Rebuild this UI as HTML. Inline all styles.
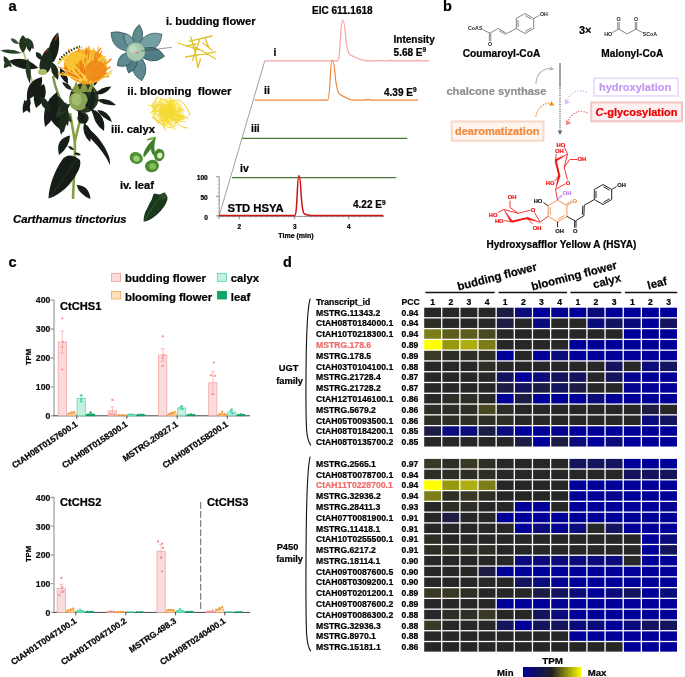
<!DOCTYPE html>
<html lang="en"><head><meta charset="utf-8"><title>Figure</title>
<style>
html,body{margin:0;padding:0;background:#fff}
body{width:685px;height:677px;overflow:hidden;position:relative}
svg{display:block;position:absolute;left:0;top:0}
text{font-family:"Liberation Sans",Arial,Helvetica,sans-serif;font-weight:bold;stroke-width:0.22px}
</style></head><body>
<svg width="685" height="677" viewBox="0 0 685 677">
<defs>
<linearGradient id="cb" x1="0" x2="1" y1="0" y2="0"><stop offset="0" stop-color="#000099"/><stop offset="0.5" stop-color="#202020"/><stop offset="1" stop-color="#ffff00"/></linearGradient>
<filter id="bl" x="-10%" y="-10%" width="120%" height="120%"><feGaussianBlur stdDeviation="0.45"/></filter>
</defs>

<text x="8.5" y="11.1" font-size="14.6" stroke="#000">a</text>
<text x="443.0" y="11.2" font-size="14.5" stroke="#000">b</text>
<text x="8.6" y="267.0" font-size="14.5" stroke="#000">c</text>
<text x="283.0" y="267.0" font-size="14.5" stroke="#000">d</text>
<g id="plant" filter="url(#bl)">
<path d="M70 113 C72 125 74 135 74.8 142 M80.5 119 C78 128 76 136 74.8 142 C75.5 160 73.5 180 73 199" stroke="#88a044" stroke-width="2.6" fill="none"/>
<path d="M23.7 52 C27 64 30 76 34 86 C38 94 44 102 50 110" stroke="#b4c474" stroke-width="1.8" fill="none"/>
<path d="M53 76 C55 88 60 100 66 110" stroke="#7a9448" stroke-width="2.4" fill="none"/>
<path d="M80 160 C73 154 66 154 62 160 C54 172 49 186 48.5 198.5 C60 195 71 185 77 173 C80 168 81 164 80 160Z" fill="#141f18"/>
<path d="M76 160 C68 172 58 186 50 197" stroke="#2c4030" stroke-width="0.7" fill="none"/>
<path d="M70.0 135.5 Q55.0 138.6 59.0 155.0 Q69.8 147.0 70.0 135.5Z" fill="#141f18"/>
<path d="M76.5 185.0 Q79.4 194.7 90.5 199.0 Q89.0 185.1 76.5 185.0Z" fill="#141f18"/>
<path d="M74.0 150.0 Q72.7 146.1 68.0 146.0 Q69.9 150.3 74.0 150.0Z" fill="#141f18"/>
<path d="M74.0 153.0 Q76.4 156.4 81.0 155.0 Q77.9 151.4 74.0 153.0Z" fill="#141f18"/>
<path d="M88 128 C96 134 104 144 108 154 C110 158 110 162 110 165 C106 156 100 148 92 140 C89 136 88 132 88 128Z" fill="#141f18"/>
<path d="M93.0 112.0 Q93.1 123.4 104.0 131.0 Q106.3 115.7 93.0 112.0Z" fill="#141f18"/>
<path d="M84.0 123.0 Q81.2 133.3 90.0 142.0 Q94.1 129.2 84.0 123.0Z" fill="#141f18"/>
<path d="M97.0 110.0 Q101.8 117.8 112.0 122.0 Q108.2 109.9 97.0 110.0Z" fill="#141f18"/>
<circle cx="83" cy="118.2" r="5.6" fill="#1d2b1f"/>
<path d="M50.0 98.0 Q42.2 119.1 64.0 132.0 Q70.4 107.5 50.0 98.0Z" fill="#141f18"/>
<path d="M58.0 96.0 Q52.8 112.7 68.0 126.0 Q72.2 106.3 58.0 96.0Z" fill="#1d2b1f"/>
<path d="M44.0 84.0 Q29.0 91.0 36.0 108.0 Q49.9 98.0 44.0 84.0Z" fill="#141f18"/>
<path d="M30.0 98.0 Q20.7 101.9 23.0 113.0 Q33.0 107.6 30.0 98.0Z" fill="#141f18"/>
<path d="M60.0 108.0 Q59.5 119.4 72.0 122.0 Q69.8 110.5 60.0 108.0Z" fill="#263826"/>
<path d="M42.0 77.0 Q25.2 80.8 27.0 100.0 Q43.7 92.8 42.0 77.0Z" fill="#141f18"/>
<path d="M57.0 92.0 Q40.3 103.9 45.0 127.0 Q62.9 111.6 57.0 92.0Z" fill="#141f18"/>
<path d="M66.0 102.0 Q55.3 115.6 61.0 135.0 Q72.2 118.1 66.0 102.0Z" fill="#1d2b1f"/>
<path d="M40.0 96.0 Q39.2 107.3 51.0 113.0 Q50.7 100.0 40.0 96.0Z" fill="#1d2b1f"/>
<path d="M24.0 100.0 Q22.1 108.0 30.0 113.0 Q31.3 103.7 24.0 100.0Z" fill="#141f18"/>
<path d="M66.0 104.0 Q56.0 106.3 56.0 118.0 Q67.0 114.3 66.0 104.0Z" fill="#263826"/>
<path d="M58 32.4 C53 36 49 44 48.5 52 C48.3 58 50 62 53.5 62 C58 56 61 44 58 32.4Z" fill="#141f18"/>
<path d="M58 32.4 C56.2 35 55 38 54.4 41 C56.6 40 58.4 37 58 32.4Z" fill="#8a3018"/>
<path d="M48.4 47.4 C43 52 39 60 39.5 68 C40 73 44 75 48 72 C53 66 54.5 56 48.4 47.4Z" fill="#1d2b1f"/>
<path d="M48.4 47.4 C47 49 46 51 45.6 53 C47.4 52 48.6 50 48.4 47.4Z" fill="#8a3018"/>
<path d="M8.5 61.0 Q20.1 72.3 38.5 68.0 Q24.4 54.1 8.5 61.0Z" fill="#141f18"/>
<path d="M0.5 50.5 Q9.7 55.3 22.0 53.0 Q10.6 47.9 0.5 50.5Z" fill="#2a4228"/>
<path d="M4.0 56.0 Q1.9 65.1 12.0 67.0 Q10.1 59.1 4.0 56.0Z" fill="#22361f"/>
<path d="M10.0 62.0 Q3.0 60.4 4.0 68.0 Q10.2 67.6 10.0 62.0Z" fill="#263826"/>
<path d="M23.0 35.0 Q15.2 43.1 23.0 53.0 Q30.8 43.1 23.0 35.0Z" fill="#22361f"/>
<path d="M28.0 38.0 Q23.0 45.1 30.0 52.0 Q34.8 43.5 28.0 38.0Z" fill="#1d2b1f"/>
<path d="M24.0 38.0 Q24.1 46.8 33.8 49.0 Q34.2 37.8 24.0 38.0Z" fill="#263826"/>
<path d="M10.5 38.5 Q12.3 44.1 19.0 44.0 Q16.4 37.8 10.5 38.5Z" fill="#365230"/>
<path d="M36.0 52.0 Q34.6 58.7 42.0 60.0 Q42.8 52.5 36.0 52.0Z" fill="#1d2b1f"/>
<path d="M28.0 58.0 Q22.3 70.2 30.0 84.0 Q32.5 69.4 28.0 58.0Z" fill="#263826"/>
<path d="M52.0 62.0 Q48.2 72.3 58.0 80.0 Q61.2 67.9 52.0 62.0Z" fill="#1d2b1f"/>
<path d="M60.0 68.0 Q58.3 77.9 68.0 84.0 Q68.9 72.5 60.0 68.0Z" fill="#141f18"/>
<ellipse cx="42.5" cy="72" rx="4.5" ry="3" fill="#a9bc6c"/>
<ellipse cx="84" cy="98" rx="14.5" ry="15" fill="#2c3824"/>
<path d="M72 92 L76 81 L80 90 L84 80 L88 90 L92 81 L95 92 Z" fill="#8a9a40"/>
<ellipse cx="78.5" cy="101" rx="9.5" ry="9.5" fill="#86a452"/>
<ellipse cx="76.5" cy="99.5" rx="5" ry="6" fill="#a4bc70"/>
<path d="M86 88 L89 99 L93 86 L96 100 L92 111 L85 106 L88 100Z" fill="#18221a"/>
<path d="M95.0 94.0 Q104.9 96.2 111.5 86.5 Q100.7 86.9 95.0 94.0Z" fill="#141f18"/>
<path d="M97.0 100.0 Q104.5 106.2 116.0 105.0 Q107.1 96.4 97.0 100.0Z" fill="#141f18"/>
<path d="M91.0 109.0 Q93.1 119.0 104.0 124.0 Q102.1 111.2 91.0 109.0Z" fill="#141f18"/>
<path d="M78.0 110.0 Q76.4 119.3 86.0 124.0 Q86.8 113.3 78.0 110.0Z" fill="#141f18"/>
<path d="M70.0 104.0 Q62.3 103.6 60.0 112.0 Q68.7 111.6 70.0 104.0Z" fill="#1d2b1f"/>
<path d="M72.0 90.0 Q70.2 83.1 62.0 82.0 Q64.8 89.7 72.0 90.0Z" fill="#1d2b1f"/>
<path d="M88.0 84.0 Q92.2 81.2 90.0 76.0 Q85.6 79.6 88.0 84.0Z" fill="#141f18"/>
<path d="M94.0 86.0 Q98.9 83.1 97.0 77.0 Q91.8 80.8 94.0 86.0Z" fill="#141f18"/>
<path d="M84 84 C76 83 67 77 64 68 C63 59 69 52 79 50 C91 48 102 52 106 60 C109 68 106 77 99 81 C93 84 88 85 84 84Z" fill="#f4a022"/>
<path d="M83.4 80.0 Q76.1 67.7 67.3 60.6 M82.1 78.2 Q73.2 75.6 58.4 73.4 M86.7 77.8 Q96.6 72.9 104.8 63.6 M87.1 77.3 Q89.5 62.4 88.9 46.4 M89.4 79.4 Q85.9 73.2 79.8 62.5 M83.7 81.0 Q91.7 70.4 100.4 54.5 M80.6 78.1 Q91.0 73.2 95.9 69.1 M85.1 78.9 Q88.0 68.1 92.8 56.3 M87.2 81.6 Q92.9 68.5 94.2 49.5 M89.3 81.8 Q96.4 72.5 98.6 62.4 M89.0 79.9 Q93.4 68.1 100.5 61.5 M80.1 81.0 Q91.4 70.6 103.8 64.4 M89.5 77.2 Q82.6 61.9 74.4 52.0 M89.6 81.9 Q95.9 75.2 102.1 62.4 M86.2 77.2 Q79.6 67.8 76.6 59.5 M79.5 81.3 Q81.5 73.5 85.7 60.2 M84.5 79.6 Q94.6 75.4 102.9 70.0 M90.3 79.5 Q92.1 66.5 94.7 50.8 M90.7 79.6 Q83.9 68.2 76.6 62.6 M79.2 80.1 Q77.0 63.6 73.1 52.5 M87.2 78.8 Q92.6 67.8 95.6 53.9 M87.1 81.8 Q77.9 79.8 71.6 78.2 " stroke="#f5a623" stroke-width="1.2" fill="none" stroke-linecap="round"/>
<path d="M83.4 78.6 Q85.5 67.2 89.1 54.8 M88.3 77.1 Q82.7 68.1 76.3 56.2 M88.6 78.2 Q81.5 68.1 78.1 58.7 M82.9 78.7 Q89.9 69.5 92.9 61.0 M83.0 80.3 Q93.1 74.6 98.6 69.5 M85.4 78.0 Q80.7 72.7 72.3 63.4 M88.7 80.2 Q82.7 72.4 73.0 66.4 M88.5 78.4 Q79.1 72.5 71.5 67.6 M90.0 77.8 Q84.4 67.8 84.8 52.5 M84.2 81.8 Q99.0 72.9 108.6 67.4 M87.0 79.6 Q94.6 66.9 104.7 56.1 M86.1 78.4 Q81.7 68.6 73.5 64.3 M90.1 81.5 Q103.4 76.6 111.9 70.7 M81.1 78.5 Q70.7 76.4 58.3 73.9 M86.3 78.7 Q81.2 64.6 79.0 46.1 M83.2 78.0 Q82.5 64.2 81.4 46.5 M90.1 81.0 Q81.5 69.5 69.1 63.9 M79.6 78.4 Q83.4 63.5 90.0 48.2 M88.3 77.0 Q83.0 61.6 83.1 50.7 M90.7 81.3 Q80.8 76.8 75.8 72.3 M83.2 80.2 Q78.3 69.0 72.4 59.4 M80.5 79.8 Q73.8 71.7 64.5 65.1 " stroke="#f9c53a" stroke-width="1.2" fill="none" stroke-linecap="round"/>
<path d="M83.5 80.0 Q76.9 75.7 66.9 72.9 M84.2 78.9 Q93.4 71.2 102.6 61.2 M84.5 78.2 Q81.7 64.7 78.5 48.9 M84.1 81.4 Q77.1 76.8 64.9 73.7 M82.1 79.3 Q91.2 75.3 104.8 67.6 M88.5 80.3 Q96.4 66.2 101.5 51.4 M79.1 77.7 Q70.4 69.6 58.5 67.0 M89.6 77.9 Q78.9 76.2 74.0 70.5 M87.1 81.2 Q78.4 74.9 64.2 67.6 M88.2 79.6 Q96.0 70.9 101.2 66.9 M79.7 78.6 Q89.5 68.4 98.5 54.3 M82.0 80.1 Q77.0 71.5 69.0 64.1 M83.2 79.1 Q76.5 67.2 74.8 55.3 M88.0 77.8 Q98.7 77.0 107.2 73.1 M84.8 80.2 Q92.9 66.2 96.3 56.5 M90.0 79.6 Q78.5 75.4 67.7 68.6 M81.4 79.9 Q72.5 71.4 65.9 66.1 M82.6 80.5 Q89.7 68.5 97.9 52.3 M81.6 77.1 Q84.0 64.8 86.7 53.9 M82.9 80.9 Q72.3 76.9 66.1 67.1 M84.6 81.2 Q85.8 67.1 83.1 52.4 M89.3 79.0 Q89.9 66.5 87.8 48.4 " stroke="#f08a18" stroke-width="1.2" fill="none" stroke-linecap="round"/>
<path d="M81.8 80.6 Q81.9 71.7 79.9 57.2 M81.3 78.3 Q87.5 73.8 97.5 66.9 M82.1 81.3 Q92.4 73.1 105.0 65.8 M80.1 81.2 Q84.4 72.2 91.3 64.9 M79.1 78.7 Q81.7 64.1 85.2 49.6 M90.5 79.0 Q81.9 67.6 72.8 60.9 M80.4 81.4 Q75.1 67.6 65.0 58.5 M88.3 80.8 Q96.4 78.5 107.0 74.1 M82.2 80.8 Q90.9 67.7 94.1 52.5 M84.9 78.8 Q87.2 69.0 86.9 57.1 M86.7 80.2 Q86.7 71.3 90.6 57.8 M90.2 77.7 Q93.3 69.3 98.5 58.3 M86.8 79.3 Q89.1 63.9 93.7 52.3 M88.1 79.7 Q78.3 74.5 65.7 71.0 M89.5 77.2 Q82.7 66.0 75.8 57.9 M83.0 79.0 Q90.7 72.1 97.8 61.9 M80.3 78.4 Q72.1 61.5 68.7 49.2 M81.2 77.9 Q90.0 69.3 99.7 57.8 M86.1 77.7 Q95.6 67.0 106.2 60.0 M81.4 78.3 Q84.1 61.3 83.4 49.9 M90.4 78.9 Q101.2 69.5 111.4 59.0 M87.2 78.5 Q95.0 62.7 98.5 47.1 " stroke="#f7b62e" stroke-width="1.2" fill="none" stroke-linecap="round"/>
<path d="M79.0 80.9 Q83.9 66.2 86.8 51.6 M81.3 79.6 Q79.4 66.3 82.9 52.9 M85.8 81.8 Q92.9 67.6 95.3 57.9 M79.6 78.8 Q87.1 67.1 97.7 60.5 M82.9 81.4 Q85.7 62.4 86.2 47.9 M90.1 80.6 Q101.5 72.9 110.1 67.0 M89.3 79.2 Q101.6 69.1 110.8 59.2 M79.9 78.0 Q70.5 74.0 65.1 69.9 M84.1 80.2 Q89.4 68.6 97.1 57.4 M81.2 81.5 Q89.9 71.6 95.9 63.2 M86.2 78.1 Q78.7 63.6 77.3 52.5 M84.5 78.0 Q89.5 68.8 98.0 63.6 M79.3 77.6 Q74.6 66.7 73.9 56.0 M84.4 79.0 Q78.1 73.6 69.4 73.6 M79.3 81.8 Q74.5 67.0 73.0 57.1 M86.5 78.7 Q83.5 64.8 85.0 56.2 M88.5 79.3 Q97.3 68.9 101.0 60.9 M88.8 80.1 Q81.2 69.1 75.4 62.9 M86.1 77.0 Q90.7 60.1 101.0 48.1 M79.6 80.3 Q75.2 72.9 65.9 69.1 M88.6 81.6 Q101.2 76.4 108.6 76.7 M90.4 77.4 Q82.5 67.6 77.0 53.6 " stroke="#ee7f12" stroke-width="1.2" fill="none" stroke-linecap="round"/>
<path d="M83.0 80.4 Q76.4 73.3 64.7 70.0 M89.0 79.8 Q99.9 67.6 105.7 57.0 M88.4 79.4 Q84.4 66.1 83.3 56.7 M87.5 78.9 Q94.8 65.6 102.2 56.4 M84.6 80.8 Q90.7 70.2 94.6 64.5 M86.7 81.4 Q79.6 69.9 68.0 59.0 M83.0 78.9 Q91.5 72.5 105.1 67.4 M85.8 77.6 Q91.3 76.0 101.8 72.7 M80.8 80.2 Q75.4 70.0 68.9 65.7 M81.6 79.8 Q71.1 69.9 61.5 56.7 M85.4 77.9 Q87.6 60.4 93.7 48.0 M79.3 81.8 Q84.7 78.2 93.6 69.9 M81.7 81.1 Q72.6 77.6 62.2 72.3 M83.2 80.0 Q92.3 66.3 102.0 57.2 M88.8 78.0 Q98.7 70.3 108.1 62.9 M83.2 79.4 Q86.1 71.6 94.2 63.2 M86.8 80.0 Q92.1 69.3 100.8 60.4 M84.2 77.4 Q91.7 73.8 102.5 74.3 M89.5 81.9 Q101.4 80.1 111.9 73.1 M90.4 81.5 Q94.3 68.4 92.8 55.4 M91.0 81.6 Q97.5 75.5 106.4 64.2 M87.7 78.5 Q80.8 73.1 73.7 66.1 " stroke="#fad04a" stroke-width="1.2" fill="none" stroke-linecap="round"/>
<path d="M88 80 C83 75 84 66 90 62 C97 58 105 62 106 69 C106 76 99 81 93 82Z" fill="#ef8616" opacity="0.85"/>
<path d="M68 56 C74 50 83 51 88 57 C82 59 76 63 70 72 C65 67 65 60 68 56Z" fill="#f9c834" opacity="0.9"/>
<path d="M59.5 60 C64 54 70 50 80 46.5" stroke="#3a3a12" stroke-width="2.2" stroke-dasharray="1.6 1.4" fill="none"/>
<path d="M58 64 C61 60 64 57 68 55" stroke="#e8c428" stroke-width="1.4" fill="none"/>
</g>
<g id="bud" filter="url(#bl)">
<path d="M135.7 51.8 Q147.9 36.8 139.2 24.6 Q127.7 34.2 135.7 51.8Z" fill="#5f8b90" stroke="#1f3a42" stroke-width="0.6"/>
<path d="M135.7 51.8 Q160.0 54.0 162.0 34.3 Q143.0 28.6 135.7 51.8Z" fill="#74a0a3" stroke="#1f3a42" stroke-width="0.6"/>
<path d="M135.7 51.8 Q151.0 67.9 164.6 56.2 Q155.1 41.0 135.7 51.8Z" fill="#4f7d83" stroke="#1f3a42" stroke-width="0.6"/>
<path d="M135.7 51.8 Q126.1 71.9 141.8 80.7 Q152.7 66.3 135.7 51.8Z" fill="#5f8b90" stroke="#1f3a42" stroke-width="0.6"/>
<path d="M135.7 51.8 Q121.8 61.3 128.6 73.0 Q141.1 67.8 135.7 51.8Z" fill="#4f7d83" stroke="#1f3a42" stroke-width="0.6"/>
<path d="M135.7 51.8 Q117.5 50.7 117.3 65.8 Q131.9 69.7 135.7 51.8Z" fill="#5f8b90" stroke="#1f3a42" stroke-width="0.6"/>
<path d="M135.7 51.8 Q130.4 28.2 111.1 32.5 Q111.5 52.3 135.7 51.8Z" fill="#5f8b90" stroke="#1f3a42" stroke-width="0.6"/>
<path d="M135.7 51.8 Q136.1 36.1 124.3 33.0 Q121.6 44.9 135.7 51.8Z" fill="#74a0a3" stroke="#1f3a42" stroke-width="0.6"/>
<circle cx="135.7" cy="51.8" r="9.6" fill="#a6c7b0" stroke="#5a8480" stroke-width="0.6"/>
<circle cx="133" cy="49" r="4" fill="#bcd8c0"/>
<circle cx="137" cy="52.5" r="1.6" fill="#e8907c"/>
<path d="M141 51 L171.6 47.4" stroke="#333" stroke-width="0.5"/>
</g>
<g id="fil" stroke="#dfc326" stroke-width="1.3" fill="none" stroke-linecap="round" filter="url(#bl)">
<path d="M177.7 43 L199.6 50 M190.8 36.9 L195 52 L197.9 67.6 M189 41.3 L211.9 36 M185.6 57 L215.4 51.8 M194.3 46.5 L215.4 58.8 M199.6 39.5 L192.6 60.5 M203 43 L212 50 M197.9 67.6 L200.5 58.8 M186 46 L196 44 M205 38 L209 48"/>
</g>
<g id="bloom" filter="url(#bl)">
<ellipse cx="168" cy="112" rx="16" ry="13.5" fill="#f8e458" opacity="0.5"/>
<ellipse cx="167" cy="112" rx="8" ry="7" fill="#f3cc2a" opacity="0.6"/>
<path d="M165.9 115.6 Q164.2 111.8 162.0 110.2 M178.5 115.3 Q179.6 113.2 187.7 117.5 M154.0 118.0 Q157.8 124.3 159.5 123.5 M159.7 108.3 Q165.7 106.2 166.0 107.4 M170.5 114.6 Q165.7 121.1 166.0 126.3 M162.2 106.2 Q155.6 102.9 156.0 104.3 M163.8 104.5 Q161.3 107.8 159.6 114.3 M171.9 100.8 Q172.3 109.1 172.2 111.4 M167.0 105.8 Q169.8 107.4 173.9 104.9 M174.3 119.4 Q181.9 121.4 185.3 122.2 M173.7 107.3 Q172.5 101.9 170.0 97.2 M177.3 99.8 Q168.2 102.4 166.1 101.7 M178.4 113.2 Q176.6 118.4 181.8 119.3 M172.7 116.1 Q164.3 119.8 162.6 124.3 M152.3 107.8 Q153.2 101.3 157.7 96.1 M157.6 122.7 Q158.5 119.6 164.5 120.8 M169.1 121.0 Q161.7 118.2 162.3 116.7 M159.8 119.4 Q165.4 118.6 170.8 116.0 M167.0 110.3 Q174.9 109.0 176.8 103.0 M160.6 116.9 Q161.5 116.8 169.4 123.6 M169.3 116.1 Q163.6 116.0 165.8 121.5 M175.1 116.4 Q182.5 114.6 188.0 118.5 M167.9 119.2 Q168.4 125.7 163.3 124.4 M157.4 113.9 Q159.1 113.8 163.3 117.4 M170.4 108.3 Q177.3 106.5 183.9 110.3 M166.6 111.7 Q162.7 112.0 153.0 109.2 M167.4 119.4 Q170.7 126.9 173.4 130.0 M165.0 116.6 Q170.4 112.6 170.2 103.7 M174.1 101.0 Q173.7 102.2 175.5 111.0 M175.3 113.1 Q178.6 118.4 174.6 124.6 M169.9 116.7 Q168.0 111.9 160.6 107.4 M159.2 101.5 Q167.3 106.6 168.9 107.2 M168.0 103.1 Q169.3 111.0 173.4 114.1 M177.3 110.6 Q173.5 111.9 166.2 118.5 M171.3 114.9 Q173.7 114.0 181.6 107.9 M181.3 110.6 Q175.3 110.9 175.2 119.0 M181.1 110.0 Q173.9 111.8 167.8 107.7 M170.8 107.5 Q168.7 112.4 170.7 115.9 M167.4 120.1 Q170.8 124.7 176.4 129.9 M166.9 111.9 Q159.5 115.6 160.0 114.6 M173.0 119.9 Q170.8 114.8 171.4 109.5 M153.7 107.7 Q155.8 109.1 162.0 114.2 M169.6 102.8 Q167.3 100.0 158.4 98.2 M159.5 106.0 Q153.4 105.8 148.0 105.1 M151.9 106.7 Q150.8 103.3 155.7 100.7 M174.0 114.4 Q181.3 120.1 184.1 119.5 M176.0 121.8 Q177.2 122.5 172.2 115.8 M173.3 119.1 Q166.5 117.2 164.6 118.2 M167.8 111.1 Q159.5 108.1 158.8 107.9 M160.0 105.4 Q168.7 111.9 172.7 110.9 M173.6 115.6 Q177.7 114.2 185.5 118.6 M153.1 118.6 Q152.0 118.3 156.5 111.3 M155.3 107.0 Q159.6 108.1 160.8 110.4 M183.5 118.3 Q176.0 116.5 175.2 109.0 M182.8 117.5 Q179.1 122.2 174.5 120.0 M167.5 115.6 Q160.5 112.2 159.7 114.2 M173.6 113.5 Q174.1 115.7 170.4 121.3 M162.6 112.0 Q158.9 110.6 159.1 117.0 M166.7 102.2 Q172.0 103.6 170.4 111.3 M172.2 104.4 Q165.0 104.7 159.5 104.8 M161.2 98.3 Q159.4 104.7 154.3 108.9 M160.9 116.0 Q160.8 119.1 167.5 118.4 M167.8 116.2 Q176.3 120.8 178.8 122.7 M166.7 117.4 Q162.6 121.7 164.1 126.8 M166.5 126.5 Q169.6 129.4 176.8 124.8 M164.8 118.8 Q169.1 118.8 173.9 118.8 M171.4 120.9 Q172.2 120.2 179.5 121.1 M169.2 112.3 Q168.6 116.2 166.6 119.7 M172.7 111.6 Q168.2 108.8 170.9 100.6 M152.1 111.6 Q154.9 108.8 156.4 99.8 M162.3 101.4 Q159.8 103.4 163.1 107.6 M180.5 120.1 Q176.4 119.6 170.3 116.1 M167.7 112.0 Q169.5 106.6 171.2 100.6 M166.6 110.1 Q162.8 104.2 165.9 102.1 M154.3 113.5 Q156.1 104.7 155.5 102.6 M172.1 116.6 Q172.5 108.5 171.8 108.2 M174.7 114.2 Q173.4 107.5 169.2 104.0 M157.5 111.1 Q157.3 109.4 150.7 112.5 M161.2 113.9 Q160.6 121.1 164.6 127.0 M175.2 119.4 Q181.1 118.5 182.0 117.4 M178.7 104.3 Q179.3 107.1 180.2 117.4 " stroke="#f4d92a" stroke-width="0.9" fill="none" stroke-linecap="round"/>
<path d="M152 117 C158 120 164 126 166 131 M178 100 C184 102 188 108 190 116 M176 122 C180 126 184 128 188 128" stroke="#e9c61e" stroke-width="0.9" fill="none"/>
</g>
<g id="calyx" filter="url(#bl)">
<ellipse cx="136.2" cy="158.0" rx="6.8" ry="5.8" fill="#4f9032" transform="rotate(25 136.2 158.0)"/>
<ellipse cx="136.8" cy="158.4" rx="3.4" ry="2.9" fill="#9ccc74" transform="rotate(25 136.2 158.0)"/>
<ellipse cx="159.2" cy="155.0" rx="5.3" ry="6.2" fill="#4a8a2e" transform="rotate(10 159.2 155.0)"/>
<ellipse cx="159.8" cy="155.4" rx="2.6" ry="3.1" fill="#d8ecc8" transform="rotate(10 159.2 155.0)"/>
<ellipse cx="152.0" cy="166.0" rx="7.0" ry="6.2" fill="#4a8a30" transform="rotate(-10 152.0 166.0)"/>
<ellipse cx="152.6" cy="166.4" rx="3.5" ry="3.1" fill="#86bc5c" transform="rotate(-10 152.0 166.0)"/>
<path d="M155.5 136.8 C152 137 148 138.5 146.5 140 C149 140.5 152 140 154 139 C150 142 146 147 144 152 C143 155 143 157 144.5 157 C147 154 149 151 151 149 C151 152 152.5 155 155 156.5 C155 152 154 148 154.5 144 C155 141 156 138.5 155.5 136.8Z" fill="#3f7f2a"/>
<path d="M155.5 136.8 C152 137 149 138 147.5 139.6 C150 140 153.5 139 155.5 136.8Z" fill="#8cc862"/>
</g>
<g id="leaf" filter="url(#bl)">
<path d="M154 193.5 L160 194.5 L164.5 192.5 C167 195 168 198 167.3 200 C166 204 164 207 162.8 208.3 C160 212 157 215 154 217 C150 220 146 221.5 143.6 221.8 C143.4 216 145 212 147.3 208.3 C148.5 205 150 202 151.8 199.4 C152.5 197 153 195 154 193.5Z" fill="#1b381c"/>
<path d="M162 195 C155 203 149 212 144.5 220.5" stroke="#3f6a38" stroke-width="0.7" fill="none"/>
<path d="M160 194.5 L164.5 192.5 C166 194 167 196 167.4 198 L162 200Z" fill="#2a4c28"/>
</g>
<text x="166.0" y="25.0" font-size="11.2" stroke="#000">i. budding flower</text>
<text x="127.3" y="95.1" font-size="11.45" stroke="#000">ii. blooming  flower</text>
<text x="111.0" y="132.6" font-size="11.3" stroke="#000">iii. calyx</text>
<text x="120.0" y="188.5" font-size="11.2" stroke="#000">iv. leaf</text>
<text x="13.0" y="223.1" font-size="11.3" stroke="#000" font-style="italic">Carthamus tinctorius</text>
<g id="chrom" fill="none" stroke-linejoin="round">
<path d="M219.2 215.6 L264.8 60.8" stroke="#7a7a7a" stroke-width="0.7"/>
<path d="M264.8 60.8 H337.6 C339.3 60.6 339.8 50 340.6 36 C341.2 24.5 341.9 20.2 342.8 20.2 C343.9 20.2 344.6 26 345.4 34 C346.3 44 347.2 50 348.8 53.2 C350.6 56 352.6 56 354.6 57 C357.6 58.6 361 60.3 366 60.8 H378 L379 60.2 L380 60.8 H389 L390 60 L391 60.8 H417 L418 60 L419 60.8 H429" stroke="#f6a3a3" stroke-width="1.2"/>
<path d="M254.6 100.1 H327.6 C329.1 99.8 329.6 90 330.3 77 C330.9 64 331.6 60 332.4 60 C333.5 60 334.2 65.5 335 73.5 C335.9 83.5 336.8 89.6 338.6 92.8 C340.6 95.8 342.6 95.8 344.6 97 C346.8 98.4 350 99.8 353 100.1 H365 L366 99.4 L367.5 100.1 L369 99.4 L370 100.1 H418" stroke="#ef873c" stroke-width="1.2"/>
<path d="M242.2 138.4 H407.2" stroke="#477a34" stroke-width="1.25"/>
<path d="M232 177.5 H396.2" stroke="#477a34" stroke-width="1.25"/>
<path d="M219.2 176.8 V219.2 M216 176.8 H219.2 M216 196.3 H219.2 M216 215.8 H219.2 M219.2 216.4 H384 M239.3 215.8 V219.2 M294.7 215.8 V219.2 M348.8 215.8 V219.2" stroke="#666" stroke-width="0.7"/>
<path d="M217.5 176.8 H219.2 M217.5 180.7 H219.2 M217.5 184.6 H219.2 M217.5 188.5 H219.2 M217.5 192.4 H219.2 M217.5 196.3 H219.2 M217.5 200.2 H219.2 M217.5 204.1 H219.2 M217.5 208.0 H219.2 M217.5 211.9 H219.2 M217.5 215.8 H219.2 M217.4 216 V218 M222.9 216 V218 M228.3 216 V218 M233.8 216 V218 M239.3 216 V218 M244.8 216 V218 M250.2 216 V218 M255.7 216 V218 M261.2 216 V218 M266.6 216 V218 M272.1 216 V218 M277.6 216 V218 M283.0 216 V218 M288.5 216 V218 M294.0 216 V218 M299.4 216 V218 M304.9 216 V218 M310.4 216 V218 M315.9 216 V218 M321.3 216 V218 M326.8 216 V218 M332.3 216 V218 M337.7 216 V218 M343.2 216 V218 M348.7 216 V218 M354.1 216 V218 M359.6 216 V218 M365.1 216 V218 M370.6 216 V218 M376.0 216 V218 M381.5 216 V218 " stroke="#888" stroke-width="0.4"/>
<path d="M219.2 215.6 H294.6 C296.2 215.4 296.7 205 297.3 192 C297.9 179 298.4 175.6 299 175.6 C299.8 175.6 300.3 180 300.9 190 C301.6 203 302.4 210.6 303.8 213.2 C305 214.8 307 215 310 215.4 L316 215.6 H383.4" stroke="#cf1414" stroke-width="1.5"/>
</g>
<text x="312.0" y="13.6" font-size="10" stroke="#000">EIC 611.1618</text>
<text x="393.6" y="43.1" font-size="10" stroke="#000">Intensity</text>
<text stroke="#000" x="393.6" y="55.8" font-size="10">5.68 E<tspan font-size="6.5" dy="-3.6">9</tspan></text>
<text stroke="#000" x="384" y="95.6" font-size="10">4.39 E<tspan font-size="6.5" dy="-3.6">9</tspan></text>
<text stroke="#000" x="353" y="208.4" font-size="10">4.22 E<tspan font-size="6.5" dy="-3.6">9</tspan></text>
<text x="273.4" y="55.8" font-size="10.5" stroke="#000">i</text>
<text x="264.0" y="93.8" font-size="10.5" stroke="#000">ii</text>
<text x="251.0" y="132.4" font-size="10.5" stroke="#000">iii</text>
<text x="240.0" y="172.1" font-size="10.5" stroke="#000">iv</text>
<text x="227.6" y="211.7" font-size="11.3" stroke="#000">STD HSYA</text>
<text x="207.8" y="179.5" font-size="6.6" text-anchor="end" stroke="#000">100</text>
<text x="207.8" y="199.6" font-size="6.6" text-anchor="end" stroke="#000">50</text>
<text x="207.8" y="219.6" font-size="6.6" text-anchor="end" stroke="#000">0</text>
<text x="239.3" y="229.1" font-size="6.5" text-anchor="middle" stroke="#000">2</text>
<text x="294.7" y="229.1" font-size="6.5" text-anchor="middle" stroke="#000">3</text>
<text x="348.8" y="229.1" font-size="6.5" text-anchor="middle" stroke="#000">4</text>
<text x="296.0" y="238.3" font-size="7" text-anchor="middle" stroke="#000">Time (min)</text>
<path d="M516.3 28.5 L516.3 18.5 M516.3 18.5 L525.0 13.5 M525.0 13.5 L533.7 18.5 M533.7 18.5 L533.7 28.5 M533.7 28.5 L525.0 33.5 M525.0 33.5 L516.3 28.5 M518.0 27.0 L518.0 20.0 M525.4 15.7 L531.5 19.2 M531.5 27.8 L525.4 31.3 M483.2 29.8 L490.0 33.2 M489.4 33.2 L489.4 41.2 M490.8 33.6 L490.8 41.2 M490.0 33.2 L498.2 28.4 M498.2 28.4 L506.7 33.5 M499.2 30.6 L505.8 34.6 M506.7 33.5 L516.3 28.5 M533.7 18.5 L539.6 15.2 " stroke="#444" stroke-width="0.65" fill="none"/>
<text x="468.0" y="29.9" font-size="5.3" fill="#222" font-weight="normal">CoAS</text>
<text x="490.0" y="45.9" font-size="5.3" text-anchor="middle" fill="#222" font-weight="normal">O</text>
<text x="540.0" y="15.5" font-size="5.3" fill="#222" font-weight="normal">OH</text>
<text x="501.5" y="56.9" font-size="10.2" text-anchor="middle" stroke="#000">Coumaroyl-CoA</text>
<text x="579.0" y="33.6" font-size="11" stroke="#000">3×</text>
<path d="M612.0 32.7 L618.5 29.1 M617.8 29.1 L617.8 22.0 M619.2 29.1 L619.2 22.0 M618.5 29.1 L627.2 33.9 M627.2 33.9 L636.0 29.1 M635.3 29.1 L635.3 22.0 M636.7 29.1 L636.7 22.0 M636.0 29.1 L642.7 32.7 " stroke="#444" stroke-width="0.65" fill="none"/>
<text x="604.3" y="35.9" font-size="5.3" fill="#222" font-weight="normal">HO</text>
<text x="618.5" y="20.9" font-size="5.3" text-anchor="middle" fill="#222" font-weight="normal">O</text>
<text x="636.0" y="20.9" font-size="5.3" text-anchor="middle" fill="#222" font-weight="normal">O</text>
<text x="642.7" y="35.9" font-size="5.3" fill="#222" font-weight="normal">SCoA</text>
<text x="632.3" y="56.9" font-size="10.15" text-anchor="middle" stroke="#000">Malonyl-CoA</text>
<path d="M560 63 V87.6" stroke="#8c8c8c" stroke-width="1.6" fill="none"/>
<path d="M560 88 V131" stroke="#666" stroke-width="1.2" stroke-dasharray="1.2 1.1" fill="none"/>
<path d="M557.7 130.6 L562.3 130.6 L560 135Z" fill="#666"/>
<text x="446.4" y="94.8" font-size="11.2" fill="#8f8f8f" stroke="#8f8f8f">chalcone synthase</text>
<path d="M535.9 84 C536.5 75 541.5 68.8 551 68.2" stroke="#b2b6c2" stroke-width="1.15" fill="none"/>
<path d="M549.8 65.8 L554.4 69.4 L549.2 70.4 L550.6 68.2Z" fill="#b2b6c2"/>
<rect x="594" y="78.2" width="84" height="17.8" fill="#fff" stroke="#ebdffc" stroke-width="2"/>
<text x="599.0" y="91.4" font-size="11" fill="#c59af3" stroke="#c59af3">hydroxylation</text>
<path d="M586.5 92.3 C578 88 569.5 93 567 101" stroke="#d9baf8" stroke-width="1.35" stroke-dasharray="1.3 1.4" fill="none"/>
<path d="M565 99.6 L565.3 104.2 L569.4 102Z" fill="#d9baf8" stroke="#d9baf8" stroke-width="0.6" stroke-linejoin="round"/>
<rect x="591.2" y="102.5" width="90.8" height="18.8" fill="#fef0f0" stroke="#f7c2c2" stroke-width="2"/>
<text x="595.6" y="115.5" font-size="11" fill="#e60000" stroke="#e60000"><tspan font-style="italic">C</tspan>-glycosylation</text>
<path d="M587.4 113 C579 108.5 570.5 113.5 568.2 121.6" stroke="#f47a7a" stroke-width="1.35" stroke-dasharray="1.3 1.4" fill="none"/>
<path d="M566.2 120.4 L566.6 125 L570.6 122.8Z" fill="#f47a7a" stroke="#f47a7a" stroke-width="0.6" stroke-linejoin="round"/>
<rect x="451.7" y="121.5" width="91.8" height="19.2" fill="#fef5ef" stroke="#f9d8c8" stroke-width="2"/>
<text x="455.0" y="135.0" font-size="11" fill="#f08a3c" stroke="#f08a3c">dearomatization</text>
<path d="M535.9 116.5 C537 109 542 104 549 103.2" stroke="#f08a20" stroke-width="1.35" stroke-dasharray="1.3 1.4" fill="none"/>
<path d="M549 105.4 L551.6 101.2 L554.2 105.4Z" fill="#f08414"/>
<path d="M548.1 216.4 L548.1 205.6 M548.1 205.6 L557.5 200.1 M557.5 200.1 L566.9 205.5 M566.9 205.5 L566.9 216.4 M566.9 216.4 L557.5 221.9 M557.5 221.9 L548.1 216.4 M550.2 214.8 L550.2 207.2 M564.5 215.4 L557.9 219.3 M566.9 205.5 L572.2 202.2 M566.3 204.3 L571.6 201.0 " stroke="#f2945c" stroke-width="1" fill="none"/>
<text x="574.8" y="202.7" font-size="5.8" text-anchor="middle" fill="#f08a3c" stroke="#f08a3c">O</text>
<path d="M594.3 199.5 L594.3 189.5 M594.3 189.5 L603.0 184.5 M603.0 184.5 L611.7 189.5 M611.7 189.5 L611.7 199.5 M611.7 199.5 L603.0 204.5 M603.0 204.5 L594.3 199.5 M596.0 198.0 L596.0 191.0 M603.4 186.7 L609.5 190.2 M609.5 198.8 L603.4 202.3 M611.7 189.5 L616.6 186.6 M548.1 205.6 L543.4 202.6 M557.5 221.9 L557.5 227.2 M566.9 216.4 L575.3 221.0 M574.6 221.0 L574.6 227.6 M576.0 221.0 L576.0 227.6 M575.3 221.0 L583.9 215.8 M583.9 215.8 L584.3 205.2 M582.4 214.8 L582.8 205.8 M584.3 205.2 L594.3 199.5 " stroke="#1c1c1c" stroke-width="0.95" fill="none"/>
<text x="538.0" y="202.6" font-size="5.8" text-anchor="middle" fill="#1c1c1c" stroke="#1c1c1c">HO</text>
<text x="559.6" y="233.1" font-size="5.8" text-anchor="middle" fill="#1c1c1c" stroke="#1c1c1c">OH</text>
<text x="575.3" y="233.1" font-size="5.8" text-anchor="middle" fill="#1c1c1c" stroke="#1c1c1c">O</text>
<text x="617.2" y="186.7" font-size="5.8" fill="#1c1c1c" stroke="#1c1c1c">OH</text>
<path d="M555.6 189.3 L565.4 183.8 M567.4 179.8 L564.3 167.3 M564.3 167.3 L567.5 154.0 M567.5 154.0 L564.3 147.2 M555.6 160.4 L556.2 154.0 M564.3 167.3 L569.8 159.5 M569.8 159.5 L577.1 159.5 M559.3 175.5 L554.7 181.0 M555.6 189.3 L557.5 200.1 " stroke="#f01414" stroke-width="0.85" fill="none"/>
<path d="M567.5 154.0 L555.1 159.4 L556.1 161.4Z M555.6 189.3 L560.4 175.8 L558.2 175.2Z " fill="#f01414" stroke="#f01414" stroke-width="0.3"/>
<path d="M555.6 160.4 L559.3 175.5 " stroke="#f01414" stroke-width="2" fill="none"/>
<text x="568.0" y="184.7" font-size="5.8" text-anchor="middle" fill="#f01414" stroke="#f01414">O</text>
<text x="560.9" y="146.5" font-size="5.8" text-anchor="middle" fill="#f01414" stroke="#f01414">HO</text>
<text x="559.3" y="153.0" font-size="5.8" text-anchor="middle" fill="#f01414" stroke="#f01414">OH</text>
<text x="577.6" y="161.4" font-size="5.8" fill="#f01414" stroke="#f01414">OH</text>
<text x="550.1" y="185.1" font-size="5.8" text-anchor="middle" fill="#f01414" stroke="#f01414">HO</text>
<path d="M558 199.4 L562.4 194.6" stroke="#b870f0" stroke-width="1.8" stroke-dasharray="0.7 0.6" fill="none"/>
<text x="562.8" y="194.9" font-size="5.8" fill="#c080f0" stroke="#c080f0">OH</text>
<path d="M540.2 222.2 L534.4 212.4 M530.4 210.2 L518.2 213.3 M518.2 213.3 L503.9 209.5 M518.2 213.3 L510.0 207.4 M510.0 207.4 L510.0 200.6 M503.9 209.5 L498.0 212.4 M511.6 221.7 L504.2 220.6 M526.9 218.1 L532.6 224.0 M540.2 222.2 L548.1 216.4 " stroke="#f01414" stroke-width="0.85" fill="none"/>
<path d="M503.9 209.5 L510.7 222.3 L512.5 221.1Z M540.2 222.2 L527.2 217.0 L526.6 219.2Z " fill="#f01414" stroke="#f01414" stroke-width="0.3"/>
<path d="M511.6 221.7 L526.9 218.1 " stroke="#f01414" stroke-width="2" fill="none"/>
<text x="533.0" y="211.8" font-size="5.8" text-anchor="middle" fill="#f01414" stroke="#f01414">O</text>
<text x="512.0" y="199.4" font-size="5.8" text-anchor="middle" fill="#f01414" stroke="#f01414">OH</text>
<text x="493.2" y="216.8" font-size="5.8" text-anchor="middle" fill="#f01414" stroke="#f01414">HO</text>
<text x="499.3" y="222.5" font-size="5.8" text-anchor="middle" fill="#f01414" stroke="#f01414">HO</text>
<text x="537.1" y="229.6" font-size="5.8" text-anchor="middle" fill="#f01414" stroke="#f01414">OH</text>
<text x="561.5" y="247.8" font-size="10.0" text-anchor="middle" stroke="#000">Hydroxysafflor Yellow A (HSYA)</text>
<rect x="111.6" y="273.4" width="9.0" height="8.0" fill="#fbdcdc" stroke="#f3a3a3" stroke-width="0.9"/>
<text x="125.0" y="281.7" font-size="11.3" stroke="#000">budding flower</text>
<rect x="217.4" y="273.4" width="9.0" height="8.0" fill="#c4f1e2" stroke="#63d8b2" stroke-width="0.9"/>
<text x="230.8" y="281.7" font-size="11.3" stroke="#000">calyx</text>
<rect x="111.6" y="291.4" width="9.0" height="7.6" fill="#fde2c2" stroke="#f3aa5c" stroke-width="0.9"/>
<text x="125.0" y="300.7" font-size="11.3" stroke="#000">blooming flower</text>
<rect x="217.4" y="291.4" width="9.0" height="7.6" fill="#12a565" stroke="#12a565" stroke-width="0.9"/>
<text x="230.8" y="300.7" font-size="11.3" stroke="#000">leaf</text>
<path d="M54 299.6 V415.8 M50.6 415.8 H54 M50.6 386.9 H54 M50.6 358.0 H54 M50.6 329.0 H54 M50.6 300.1 H54 " stroke="#a4a4a4" stroke-width="1.3" fill="none"/>
<path d="M53.4 415.8 H250" stroke="#444" stroke-width="1" fill="none"/>
<text x="50.3" y="419.1" font-size="8.7" text-anchor="end" fill="#111" stroke="#111" stroke-width="0">0</text>
<text x="50.3" y="390.2" font-size="8.7" text-anchor="end" fill="#111" stroke="#111" stroke-width="0">100</text>
<text x="50.3" y="361.3" font-size="8.7" text-anchor="end" fill="#111" stroke="#111" stroke-width="0">200</text>
<text x="50.3" y="332.4" font-size="8.7" text-anchor="end" fill="#111" stroke="#111" stroke-width="0">300</text>
<text x="50.3" y="303.4" font-size="8.7" text-anchor="end" fill="#111" stroke="#111" stroke-width="0">400</text>
<text stroke="#000" transform="translate(31.4 357.0) rotate(-90)" font-size="7.7" text-anchor="middle">TPM</text>
<rect x="58.2" y="342.0" width="8.2" height="73.8" fill="#fbdcdc" stroke="#f3a3a3" stroke-width="0.8"/>
<path d="M62.3 331.0 V353.0 M60.3 331.0 H64.3 M60.3 353.0 H64.3" stroke="#f3a3a3" stroke-width="0.7" fill="none"/>
<circle cx="62.3" cy="318.3" r="1.1" fill="#f28c8c"/>
<circle cx="62.3" cy="347.0" r="1.1" fill="#f28c8c"/>
<circle cx="62.3" cy="369.5" r="1.1" fill="#f28c8c"/>
<circle cx="63.3" cy="342.0" r="1.1" fill="#f28c8c"/>
<rect x="67.7" y="413.2" width="8.2" height="2.6" fill="#fde2c2" stroke="#f3aa5c" stroke-width="0.8"/>
<path d="M71.8 412.3 V414.1 M69.8 412.3 H73.8 M69.8 414.1 H73.8" stroke="#f3aa5c" stroke-width="0.7" fill="none"/>
<circle cx="69.2" cy="413.5" r="1.1" fill="#f0962e"/>
<circle cx="71.8" cy="412.3" r="1.1" fill="#f0962e"/>
<circle cx="74.2" cy="411.8" r="1.1" fill="#f0962e"/>
<rect x="77.1" y="398.4" width="8.2" height="17.4" fill="#c4f1e2" stroke="#63d8b2" stroke-width="0.8"/>
<path d="M81.2 395.0 V401.9 M79.2 395.0 H83.2 M79.2 401.9 H83.2" stroke="#63d8b2" stroke-width="0.7" fill="none"/>
<circle cx="81.2" cy="395.6" r="1.1" fill="#3fd4a4"/>
<circle cx="81.2" cy="399.0" r="1.1" fill="#3fd4a4"/>
<circle cx="81.2" cy="401.3" r="1.1" fill="#3fd4a4"/>
<rect x="86.5" y="414.4" width="8.2" height="1.4" fill="#12a565" stroke="#12a565" stroke-width="0.8"/>
<path d="M90.6 413.8 V414.9 M88.6 413.8 H92.6 M88.6 414.9 H92.6" stroke="#12a565" stroke-width="0.7" fill="none"/>
<circle cx="88.1" cy="414.6" r="1.1" fill="#0f9d5c"/>
<circle cx="90.6" cy="412.3" r="1.1" fill="#0f9d5c"/>
<circle cx="93.1" cy="414.6" r="1.1" fill="#0f9d5c"/>
<path d="M76.8 415.8 V418.8" stroke="#222" stroke-width="0.8"/>
<text stroke="#000" transform="translate(78.2 425.6) rotate(-34)" font-size="8.6" text-anchor="end">CtAH08T0157600.1</text>
<rect x="108.3" y="410.9" width="8.2" height="4.9" fill="#fbdcdc" stroke="#f3a3a3" stroke-width="0.8"/>
<path d="M112.4 406.8 V414.9 M110.4 406.8 H114.4 M110.4 414.9 H114.4" stroke="#f3a3a3" stroke-width="0.7" fill="none"/>
<circle cx="112.4" cy="399.9" r="1.1" fill="#f28c8c"/>
<circle cx="110.4" cy="414.1" r="1.1" fill="#f28c8c"/>
<circle cx="114.4" cy="414.4" r="1.1" fill="#f28c8c"/>
<rect x="117.8" y="415.2" width="8.2" height="0.6" fill="#fde2c2" stroke="#f3aa5c" stroke-width="0.8"/>
<circle cx="119.3" cy="415.2" r="1.1" fill="#f0962e"/>
<circle cx="121.8" cy="415.2" r="1.1" fill="#f0962e"/>
<circle cx="124.3" cy="415.2" r="1.1" fill="#f0962e"/>
<rect x="127.2" y="414.6" width="8.2" height="1.2" fill="#c4f1e2" stroke="#63d8b2" stroke-width="0.8"/>
<circle cx="128.8" cy="414.6" r="1.1" fill="#3fd4a4"/>
<circle cx="131.3" cy="414.4" r="1.1" fill="#3fd4a4"/>
<circle cx="133.8" cy="414.6" r="1.1" fill="#3fd4a4"/>
<rect x="136.7" y="414.9" width="8.2" height="0.9" fill="#12a565" stroke="#12a565" stroke-width="0.8"/>
<circle cx="138.2" cy="414.9" r="1.1" fill="#0f9d5c"/>
<circle cx="140.8" cy="414.6" r="1.1" fill="#0f9d5c"/>
<circle cx="143.2" cy="414.9" r="1.1" fill="#0f9d5c"/>
<path d="M126.9 415.8 V418.8" stroke="#222" stroke-width="0.8"/>
<text stroke="#000" transform="translate(128.3 425.6) rotate(-34)" font-size="8.6" text-anchor="end">CtAH08T0158300.1</text>
<rect x="158.6" y="355.1" width="8.2" height="60.7" fill="#fbdcdc" stroke="#f3a3a3" stroke-width="0.8"/>
<path d="M162.7 348.7 V361.4 M160.7 348.7 H164.7 M160.7 361.4 H164.7" stroke="#f3a3a3" stroke-width="0.7" fill="none"/>
<circle cx="162.7" cy="336.3" r="1.1" fill="#f28c8c"/>
<circle cx="162.7" cy="358.0" r="1.1" fill="#f28c8c"/>
<circle cx="162.7" cy="366.0" r="1.1" fill="#f28c8c"/>
<circle cx="163.7" cy="355.1" r="1.1" fill="#f28c8c"/>
<rect x="168.0" y="413.5" width="8.2" height="2.3" fill="#fde2c2" stroke="#f3aa5c" stroke-width="0.8"/>
<path d="M172.1 412.6 V414.4 M170.1 412.6 H174.1 M170.1 414.4 H174.1" stroke="#f3aa5c" stroke-width="0.7" fill="none"/>
<circle cx="169.6" cy="414.1" r="1.1" fill="#f0962e"/>
<circle cx="172.1" cy="412.9" r="1.1" fill="#f0962e"/>
<circle cx="174.6" cy="411.8" r="1.1" fill="#f0962e"/>
<rect x="177.5" y="408.0" width="8.2" height="7.8" fill="#c4f1e2" stroke="#63d8b2" stroke-width="0.8"/>
<path d="M181.6 406.5 V409.4 M179.6 406.5 H183.6 M179.6 409.4 H183.6" stroke="#63d8b2" stroke-width="0.7" fill="none"/>
<circle cx="181.6" cy="406.0" r="1.1" fill="#3fd4a4"/>
<circle cx="180.6" cy="407.7" r="1.1" fill="#3fd4a4"/>
<circle cx="182.6" cy="408.9" r="1.1" fill="#3fd4a4"/>
<rect x="186.9" y="414.9" width="8.2" height="0.9" fill="#12a565" stroke="#12a565" stroke-width="0.8"/>
<circle cx="188.5" cy="414.9" r="1.1" fill="#0f9d5c"/>
<circle cx="191.0" cy="414.4" r="1.1" fill="#0f9d5c"/>
<circle cx="193.5" cy="414.9" r="1.1" fill="#0f9d5c"/>
<path d="M177.2 415.8 V418.8" stroke="#222" stroke-width="0.8"/>
<text stroke="#000" transform="translate(178.6 425.6) rotate(-34)" font-size="8.6" text-anchor="end">MSTRG.20927.1</text>
<rect x="208.7" y="382.8" width="8.2" height="33.0" fill="#fbdcdc" stroke="#f3a3a3" stroke-width="0.8"/>
<path d="M212.8 371.3 V394.4 M210.8 371.3 H214.8 M210.8 394.4 H214.8" stroke="#f3a3a3" stroke-width="0.7" fill="none"/>
<circle cx="213.8" cy="362.6" r="1.1" fill="#f28c8c"/>
<circle cx="210.8" cy="375.3" r="1.1" fill="#f28c8c"/>
<circle cx="214.8" cy="375.9" r="1.1" fill="#f28c8c"/>
<circle cx="212.8" cy="394.1" r="1.1" fill="#f28c8c"/>
<rect x="218.1" y="414.1" width="8.2" height="1.7" fill="#fde2c2" stroke="#f3aa5c" stroke-width="0.8"/>
<path d="M222.2 413.2 V414.9 M220.2 413.2 H224.2 M220.2 414.9 H224.2" stroke="#f3aa5c" stroke-width="0.7" fill="none"/>
<circle cx="219.7" cy="414.4" r="1.1" fill="#f0962e"/>
<circle cx="222.2" cy="411.8" r="1.1" fill="#f0962e"/>
<circle cx="224.7" cy="414.1" r="1.1" fill="#f0962e"/>
<rect x="227.6" y="412.0" width="8.2" height="3.8" fill="#c4f1e2" stroke="#63d8b2" stroke-width="0.8"/>
<path d="M231.7 410.3 V413.8 M229.7 410.3 H233.7 M229.7 413.8 H233.7" stroke="#63d8b2" stroke-width="0.7" fill="none"/>
<circle cx="231.7" cy="409.4" r="1.1" fill="#3fd4a4"/>
<circle cx="230.7" cy="411.2" r="1.1" fill="#3fd4a4"/>
<circle cx="232.7" cy="413.5" r="1.1" fill="#3fd4a4"/>
<rect x="237.0" y="414.9" width="8.2" height="0.9" fill="#12a565" stroke="#12a565" stroke-width="0.8"/>
<circle cx="238.6" cy="414.9" r="1.1" fill="#0f9d5c"/>
<circle cx="241.1" cy="414.4" r="1.1" fill="#0f9d5c"/>
<circle cx="243.6" cy="414.9" r="1.1" fill="#0f9d5c"/>
<path d="M227.3 415.8 V418.8" stroke="#222" stroke-width="0.8"/>
<text stroke="#000" transform="translate(228.7 425.6) rotate(-34)" font-size="8.6" text-anchor="end">CtAH08T0158200.1</text>
<text x="60.0" y="310.2" font-size="11.1" stroke="#000">CtCHS1</text>
<path d="M54 497.0 V612.4 M50.6 612.4 H54 M50.6 583.7 H54 M50.6 555.0 H54 M50.6 526.2 H54 M50.6 497.5 H54 " stroke="#a4a4a4" stroke-width="1.3" fill="none"/>
<path d="M53.4 612.4 H250" stroke="#444" stroke-width="1" fill="none"/>
<text x="50.3" y="615.7" font-size="8.7" text-anchor="end" fill="#111" stroke="#111" stroke-width="0">0</text>
<text x="50.3" y="587.0" font-size="8.7" text-anchor="end" fill="#111" stroke="#111" stroke-width="0">100</text>
<text x="50.3" y="558.3" font-size="8.7" text-anchor="end" fill="#111" stroke="#111" stroke-width="0">200</text>
<text x="50.3" y="529.6" font-size="8.7" text-anchor="end" fill="#111" stroke="#111" stroke-width="0">300</text>
<text x="50.3" y="500.8" font-size="8.7" text-anchor="end" fill="#111" stroke="#111" stroke-width="0">400</text>
<text stroke="#000" transform="translate(31.4 554.0) rotate(-90)" font-size="7.7" text-anchor="middle">TPM</text>
<rect x="57.2" y="588.3" width="8.2" height="24.1" fill="#fbdcdc" stroke="#f3a3a3" stroke-width="0.8"/>
<path d="M61.3 584.2 V592.3 M59.3 584.2 H63.3 M59.3 592.3 H63.3" stroke="#f3a3a3" stroke-width="0.7" fill="none"/>
<circle cx="61.3" cy="577.9" r="1.1" fill="#f28c8c"/>
<circle cx="59.3" cy="595.2" r="1.1" fill="#f28c8c"/>
<circle cx="63.3" cy="591.7" r="1.1" fill="#f28c8c"/>
<circle cx="62.3" cy="587.1" r="1.1" fill="#f28c8c"/>
<rect x="66.7" y="610.1" width="8.2" height="2.3" fill="#fde2c2" stroke="#f3aa5c" stroke-width="0.8"/>
<path d="M70.8 609.2 V611.0 M68.8 609.2 H72.8 M68.8 611.0 H72.8" stroke="#f3aa5c" stroke-width="0.7" fill="none"/>
<circle cx="68.2" cy="610.7" r="1.1" fill="#f0962e"/>
<circle cx="70.8" cy="609.5" r="1.1" fill="#f0962e"/>
<circle cx="73.2" cy="608.7" r="1.1" fill="#f0962e"/>
<rect x="76.1" y="611.0" width="8.2" height="1.4" fill="#c4f1e2" stroke="#63d8b2" stroke-width="0.8"/>
<path d="M80.2 610.4 V611.5 M78.2 610.4 H82.2 M78.2 611.5 H82.2" stroke="#63d8b2" stroke-width="0.7" fill="none"/>
<circle cx="77.7" cy="611.0" r="1.1" fill="#3fd4a4"/>
<circle cx="80.2" cy="609.8" r="1.1" fill="#3fd4a4"/>
<circle cx="82.7" cy="611.3" r="1.1" fill="#3fd4a4"/>
<rect x="85.5" y="611.8" width="8.2" height="0.6" fill="#12a565" stroke="#12a565" stroke-width="0.8"/>
<circle cx="87.1" cy="611.8" r="1.1" fill="#0f9d5c"/>
<circle cx="89.6" cy="611.8" r="1.1" fill="#0f9d5c"/>
<circle cx="92.1" cy="611.8" r="1.1" fill="#0f9d5c"/>
<path d="M75.8 612.4 V615.4" stroke="#222" stroke-width="0.8"/>
<text stroke="#000" transform="translate(77.2 622.2) rotate(-34)" font-size="8.6" text-anchor="end">CtAH01T0047100.1</text>
<rect x="107.2" y="611.5" width="8.2" height="0.9" fill="#fbdcdc" stroke="#f3a3a3" stroke-width="0.8"/>
<circle cx="108.8" cy="611.5" r="1.1" fill="#f28c8c"/>
<circle cx="111.3" cy="611.3" r="1.1" fill="#f28c8c"/>
<circle cx="113.8" cy="611.5" r="1.1" fill="#f28c8c"/>
<rect x="116.7" y="611.8" width="8.2" height="0.6" fill="#fde2c2" stroke="#f3aa5c" stroke-width="0.8"/>
<circle cx="118.2" cy="612.1" r="1.1" fill="#f0962e"/>
<circle cx="120.8" cy="612.1" r="1.1" fill="#f0962e"/>
<circle cx="123.2" cy="612.1" r="1.1" fill="#f0962e"/>
<circle cx="127.7" cy="612.1" r="1.1" fill="#3fd4a4"/>
<circle cx="130.2" cy="612.1" r="1.1" fill="#3fd4a4"/>
<circle cx="132.7" cy="612.1" r="1.1" fill="#3fd4a4"/>
<circle cx="137.2" cy="612.1" r="1.1" fill="#0f9d5c"/>
<circle cx="139.7" cy="612.1" r="1.1" fill="#0f9d5c"/>
<circle cx="142.2" cy="612.1" r="1.1" fill="#0f9d5c"/>
<path d="M125.8 612.4 V615.4" stroke="#222" stroke-width="0.8"/>
<text stroke="#000" transform="translate(127.2 622.2) rotate(-34)" font-size="8.6" text-anchor="end">CtAH01T0047100.2</text>
<rect x="157.0" y="551.2" width="8.2" height="61.2" fill="#fbdcdc" stroke="#f3a3a3" stroke-width="0.8"/>
<path d="M161.1 544.3 V558.1 M159.1 544.3 H163.1 M159.1 558.1 H163.1" stroke="#f3a3a3" stroke-width="0.7" fill="none"/>
<circle cx="158.1" cy="541.4" r="1.1" fill="#f28c8c"/>
<circle cx="162.1" cy="543.5" r="1.1" fill="#f28c8c"/>
<circle cx="161.1" cy="557.8" r="1.1" fill="#f28c8c"/>
<circle cx="162.1" cy="571.3" r="1.1" fill="#f28c8c"/>
<circle cx="163.1" cy="547.8" r="1.1" fill="#f28c8c"/>
<rect x="166.4" y="610.1" width="8.2" height="2.3" fill="#fde2c2" stroke="#f3aa5c" stroke-width="0.8"/>
<path d="M170.5 609.5 V610.7 M168.5 609.5 H172.5 M168.5 610.7 H172.5" stroke="#f3aa5c" stroke-width="0.7" fill="none"/>
<circle cx="168.0" cy="610.1" r="1.1" fill="#f0962e"/>
<circle cx="170.5" cy="610.1" r="1.1" fill="#f0962e"/>
<circle cx="173.0" cy="610.1" r="1.1" fill="#f0962e"/>
<rect x="175.9" y="610.7" width="8.2" height="1.7" fill="#c4f1e2" stroke="#63d8b2" stroke-width="0.8"/>
<path d="M180.0 609.8 V611.5 M178.0 609.8 H182.0 M178.0 611.5 H182.0" stroke="#63d8b2" stroke-width="0.7" fill="none"/>
<circle cx="177.5" cy="611.0" r="1.1" fill="#3fd4a4"/>
<circle cx="180.0" cy="609.0" r="1.1" fill="#3fd4a4"/>
<circle cx="182.5" cy="611.0" r="1.1" fill="#3fd4a4"/>
<rect x="185.3" y="611.8" width="8.2" height="0.6" fill="#12a565" stroke="#12a565" stroke-width="0.8"/>
<circle cx="186.9" cy="611.8" r="1.1" fill="#0f9d5c"/>
<circle cx="189.4" cy="611.8" r="1.1" fill="#0f9d5c"/>
<circle cx="191.9" cy="611.8" r="1.1" fill="#0f9d5c"/>
<path d="M175.6 612.4 V615.4" stroke="#222" stroke-width="0.8"/>
<text stroke="#000" transform="translate(177.0 622.2) rotate(-34)" font-size="8.6" text-anchor="end">MSTRG.498.3</text>
<rect x="206.2" y="611.5" width="8.2" height="0.9" fill="#fbdcdc" stroke="#f3a3a3" stroke-width="0.8"/>
<circle cx="207.8" cy="611.5" r="1.1" fill="#f28c8c"/>
<circle cx="210.3" cy="611.5" r="1.1" fill="#f28c8c"/>
<circle cx="212.8" cy="610.7" r="1.1" fill="#f28c8c"/>
<rect x="215.6" y="609.0" width="8.2" height="3.4" fill="#fde2c2" stroke="#f3aa5c" stroke-width="0.8"/>
<path d="M219.7 607.8 V610.1 M217.7 607.8 H221.7 M217.7 610.1 H221.7" stroke="#f3aa5c" stroke-width="0.7" fill="none"/>
<circle cx="217.2" cy="610.1" r="1.1" fill="#f0962e"/>
<circle cx="219.7" cy="608.4" r="1.1" fill="#f0962e"/>
<circle cx="222.2" cy="607.2" r="1.1" fill="#f0962e"/>
<circle cx="226.7" cy="612.1" r="1.1" fill="#3fd4a4"/>
<circle cx="229.2" cy="612.1" r="1.1" fill="#3fd4a4"/>
<circle cx="231.7" cy="612.1" r="1.1" fill="#3fd4a4"/>
<circle cx="236.1" cy="612.1" r="1.1" fill="#0f9d5c"/>
<circle cx="238.6" cy="612.1" r="1.1" fill="#0f9d5c"/>
<circle cx="241.1" cy="612.1" r="1.1" fill="#0f9d5c"/>
<path d="M224.8 612.4 V615.4" stroke="#222" stroke-width="0.8"/>
<text stroke="#000" transform="translate(226.2 622.2) rotate(-34)" font-size="8.6" text-anchor="end">CtAH08T0240400.1</text>
<text x="60.0" y="506.2" font-size="11.1" stroke="#000">CtCHS2</text>
<text x="207.0" y="506.2" font-size="11.1" stroke="#000">CtCHS3</text>
<path d="M200.7 502 V609" stroke="#555" stroke-width="0.9" stroke-dasharray="6.8 2.3" fill="none"/>
<g shape-rendering="auto">
<rect x="424.20" y="307.70" width="16.85" height="9.48" fill="#272727"/>
<rect x="442.35" y="307.70" width="16.85" height="9.48" fill="#272727"/>
<rect x="460.50" y="307.70" width="16.85" height="9.48" fill="#272727"/>
<rect x="478.65" y="307.70" width="16.85" height="9.48" fill="#272727"/>
<rect x="496.80" y="307.70" width="16.85" height="9.48" fill="#1c1c44"/>
<rect x="514.95" y="307.70" width="16.85" height="9.48" fill="#0b0b7c"/>
<rect x="533.10" y="307.70" width="16.85" height="9.48" fill="#000099"/>
<rect x="551.25" y="307.70" width="16.85" height="9.48" fill="#040490"/>
<rect x="569.40" y="307.70" width="16.85" height="9.48" fill="#000099"/>
<rect x="587.55" y="307.70" width="16.85" height="9.48" fill="#0b0b7c"/>
<rect x="605.70" y="307.70" width="16.85" height="9.48" fill="#000099"/>
<rect x="623.85" y="307.70" width="16.85" height="9.48" fill="#000099"/>
<rect x="642.00" y="307.70" width="16.85" height="9.48" fill="#000099"/>
<rect x="660.15" y="307.70" width="16.85" height="9.48" fill="#000099"/>
<text x="316.0" y="315.7" font-size="8.65" stroke="#000">MSTRG.11343.2</text>
<text x="401.6" y="315.7" font-size="8.65" stroke="#000">0.94</text>
<rect x="424.20" y="318.48" width="16.85" height="9.48" fill="#2e2e26"/>
<rect x="442.35" y="318.48" width="16.85" height="9.48" fill="#272727"/>
<rect x="460.50" y="318.48" width="16.85" height="9.48" fill="#272727"/>
<rect x="478.65" y="318.48" width="16.85" height="9.48" fill="#272727"/>
<rect x="496.80" y="318.48" width="16.85" height="9.48" fill="#1c1c44"/>
<rect x="514.95" y="318.48" width="16.85" height="9.48" fill="#272727"/>
<rect x="533.10" y="318.48" width="16.85" height="9.48" fill="#0b0b7c"/>
<rect x="551.25" y="318.48" width="16.85" height="9.48" fill="#272727"/>
<rect x="569.40" y="318.48" width="16.85" height="9.48" fill="#272727"/>
<rect x="587.55" y="318.48" width="16.85" height="9.48" fill="#0b0b7c"/>
<rect x="605.70" y="318.48" width="16.85" height="9.48" fill="#13135e"/>
<rect x="623.85" y="318.48" width="16.85" height="9.48" fill="#0b0b7c"/>
<rect x="642.00" y="318.48" width="16.85" height="9.48" fill="#000099"/>
<rect x="660.15" y="318.48" width="16.85" height="9.48" fill="#13135e"/>
<text x="316.0" y="326.4" font-size="8.65" stroke="#000">CtAH08T0184000.1</text>
<text x="401.6" y="326.4" font-size="8.65" stroke="#000">0.94</text>
<rect x="424.20" y="329.26" width="16.85" height="9.48" fill="#7c7c18"/>
<rect x="442.35" y="329.26" width="16.85" height="9.48" fill="#5c5c1e"/>
<rect x="460.50" y="329.26" width="16.85" height="9.48" fill="#5c5c1e"/>
<rect x="478.65" y="329.26" width="16.85" height="9.48" fill="#484822"/>
<rect x="496.80" y="329.26" width="16.85" height="9.48" fill="#272727"/>
<rect x="514.95" y="329.26" width="16.85" height="9.48" fill="#272727"/>
<rect x="533.10" y="329.26" width="16.85" height="9.48" fill="#272727"/>
<rect x="551.25" y="329.26" width="16.85" height="9.48" fill="#272727"/>
<rect x="569.40" y="329.26" width="16.85" height="9.48" fill="#272727"/>
<rect x="587.55" y="329.26" width="16.85" height="9.48" fill="#272727"/>
<rect x="605.70" y="329.26" width="16.85" height="9.48" fill="#272727"/>
<rect x="623.85" y="329.26" width="16.85" height="9.48" fill="#000099"/>
<rect x="642.00" y="329.26" width="16.85" height="9.48" fill="#000099"/>
<rect x="660.15" y="329.26" width="16.85" height="9.48" fill="#000099"/>
<text x="316.0" y="337.2" font-size="8.65" stroke="#000">CtAH10T0218300.1</text>
<text x="401.6" y="337.2" font-size="8.65" stroke="#000">0.94</text>
<rect x="424.20" y="340.04" width="16.85" height="9.48" fill="#ffff00"/>
<rect x="442.35" y="340.04" width="16.85" height="9.48" fill="#98980f"/>
<rect x="460.50" y="340.04" width="16.85" height="9.48" fill="#aeae10"/>
<rect x="478.65" y="340.04" width="16.85" height="9.48" fill="#7c7c18"/>
<rect x="496.80" y="340.04" width="16.85" height="9.48" fill="#272727"/>
<rect x="514.95" y="340.04" width="16.85" height="9.48" fill="#272727"/>
<rect x="533.10" y="340.04" width="16.85" height="9.48" fill="#272727"/>
<rect x="551.25" y="340.04" width="16.85" height="9.48" fill="#272727"/>
<rect x="569.40" y="340.04" width="16.85" height="9.48" fill="#000099"/>
<rect x="587.55" y="340.04" width="16.85" height="9.48" fill="#000099"/>
<rect x="605.70" y="340.04" width="16.85" height="9.48" fill="#000099"/>
<rect x="623.85" y="340.04" width="16.85" height="9.48" fill="#000099"/>
<rect x="642.00" y="340.04" width="16.85" height="9.48" fill="#000099"/>
<rect x="660.15" y="340.04" width="16.85" height="9.48" fill="#000099"/>
<text x="316.0" y="348.0" font-size="8.65" fill="#f26b6b" stroke="#f26b6b">MSTRG.178.6</text>
<text x="401.6" y="348.0" font-size="8.65" stroke="#000">0.89</text>
<rect x="424.20" y="350.82" width="16.85" height="9.48" fill="#393925"/>
<rect x="442.35" y="350.82" width="16.85" height="9.48" fill="#2e2e26"/>
<rect x="460.50" y="350.82" width="16.85" height="9.48" fill="#2e2e26"/>
<rect x="478.65" y="350.82" width="16.85" height="9.48" fill="#2e2e26"/>
<rect x="496.80" y="350.82" width="16.85" height="9.48" fill="#000099"/>
<rect x="514.95" y="350.82" width="16.85" height="9.48" fill="#272727"/>
<rect x="533.10" y="350.82" width="16.85" height="9.48" fill="#000099"/>
<rect x="551.25" y="350.82" width="16.85" height="9.48" fill="#0b0b7c"/>
<rect x="569.40" y="350.82" width="16.85" height="9.48" fill="#000099"/>
<rect x="587.55" y="350.82" width="16.85" height="9.48" fill="#000099"/>
<rect x="605.70" y="350.82" width="16.85" height="9.48" fill="#000099"/>
<rect x="623.85" y="350.82" width="16.85" height="9.48" fill="#000099"/>
<rect x="642.00" y="350.82" width="16.85" height="9.48" fill="#000099"/>
<rect x="660.15" y="350.82" width="16.85" height="9.48" fill="#000099"/>
<text x="316.0" y="358.8" font-size="8.65" stroke="#000">MSTRG.178.5</text>
<text x="401.6" y="358.8" font-size="8.65" stroke="#000">0.89</text>
<rect x="424.20" y="361.60" width="16.85" height="9.48" fill="#272727"/>
<rect x="442.35" y="361.60" width="16.85" height="9.48" fill="#272727"/>
<rect x="460.50" y="361.60" width="16.85" height="9.48" fill="#272727"/>
<rect x="478.65" y="361.60" width="16.85" height="9.48" fill="#2e2e26"/>
<rect x="496.80" y="361.60" width="16.85" height="9.48" fill="#272727"/>
<rect x="514.95" y="361.60" width="16.85" height="9.48" fill="#272727"/>
<rect x="533.10" y="361.60" width="16.85" height="9.48" fill="#272727"/>
<rect x="551.25" y="361.60" width="16.85" height="9.48" fill="#272727"/>
<rect x="569.40" y="361.60" width="16.85" height="9.48" fill="#272727"/>
<rect x="587.55" y="361.60" width="16.85" height="9.48" fill="#272727"/>
<rect x="605.70" y="361.60" width="16.85" height="9.48" fill="#13135e"/>
<rect x="623.85" y="361.60" width="16.85" height="9.48" fill="#272727"/>
<rect x="642.00" y="361.60" width="16.85" height="9.48" fill="#0b0b7c"/>
<rect x="660.15" y="361.60" width="16.85" height="9.48" fill="#13135e"/>
<text x="316.0" y="369.6" font-size="8.65" stroke="#000">CtAH03T0104100.1</text>
<text x="401.6" y="369.6" font-size="8.65" stroke="#000">0.88</text>
<rect x="424.20" y="372.38" width="16.85" height="9.48" fill="#272727"/>
<rect x="442.35" y="372.38" width="16.85" height="9.48" fill="#272727"/>
<rect x="460.50" y="372.38" width="16.85" height="9.48" fill="#272727"/>
<rect x="478.65" y="372.38" width="16.85" height="9.48" fill="#272727"/>
<rect x="496.80" y="372.38" width="16.85" height="9.48" fill="#13135e"/>
<rect x="514.95" y="372.38" width="16.85" height="9.48" fill="#000099"/>
<rect x="533.10" y="372.38" width="16.85" height="9.48" fill="#0b0b7c"/>
<rect x="551.25" y="372.38" width="16.85" height="9.48" fill="#13135e"/>
<rect x="569.40" y="372.38" width="16.85" height="9.48" fill="#13135e"/>
<rect x="587.55" y="372.38" width="16.85" height="9.48" fill="#272727"/>
<rect x="605.70" y="372.38" width="16.85" height="9.48" fill="#13135e"/>
<rect x="623.85" y="372.38" width="16.85" height="9.48" fill="#040490"/>
<rect x="642.00" y="372.38" width="16.85" height="9.48" fill="#000099"/>
<rect x="660.15" y="372.38" width="16.85" height="9.48" fill="#000099"/>
<text x="316.0" y="380.3" font-size="8.65" stroke="#000">MSTRG.21728.4</text>
<text x="401.6" y="380.3" font-size="8.65" stroke="#000">0.87</text>
<rect x="424.20" y="383.16" width="16.85" height="9.48" fill="#272727"/>
<rect x="442.35" y="383.16" width="16.85" height="9.48" fill="#272727"/>
<rect x="460.50" y="383.16" width="16.85" height="9.48" fill="#272727"/>
<rect x="478.65" y="383.16" width="16.85" height="9.48" fill="#272727"/>
<rect x="496.80" y="383.16" width="16.85" height="9.48" fill="#1c1c44"/>
<rect x="514.95" y="383.16" width="16.85" height="9.48" fill="#13135e"/>
<rect x="533.10" y="383.16" width="16.85" height="9.48" fill="#1c1c44"/>
<rect x="551.25" y="383.16" width="16.85" height="9.48" fill="#13135e"/>
<rect x="569.40" y="383.16" width="16.85" height="9.48" fill="#1c1c44"/>
<rect x="587.55" y="383.16" width="16.85" height="9.48" fill="#272727"/>
<rect x="605.70" y="383.16" width="16.85" height="9.48" fill="#272727"/>
<rect x="623.85" y="383.16" width="16.85" height="9.48" fill="#040490"/>
<rect x="642.00" y="383.16" width="16.85" height="9.48" fill="#000099"/>
<rect x="660.15" y="383.16" width="16.85" height="9.48" fill="#000099"/>
<text x="316.0" y="391.1" font-size="8.65" stroke="#000">MSTRG.21728.2</text>
<text x="401.6" y="391.1" font-size="8.65" stroke="#000">0.87</text>
<rect x="424.20" y="393.94" width="16.85" height="9.48" fill="#272727"/>
<rect x="442.35" y="393.94" width="16.85" height="9.48" fill="#2e2e26"/>
<rect x="460.50" y="393.94" width="16.85" height="9.48" fill="#2e2e26"/>
<rect x="478.65" y="393.94" width="16.85" height="9.48" fill="#272727"/>
<rect x="496.80" y="393.94" width="16.85" height="9.48" fill="#000099"/>
<rect x="514.95" y="393.94" width="16.85" height="9.48" fill="#1c1c44"/>
<rect x="533.10" y="393.94" width="16.85" height="9.48" fill="#000099"/>
<rect x="551.25" y="393.94" width="16.85" height="9.48" fill="#000099"/>
<rect x="569.40" y="393.94" width="16.85" height="9.48" fill="#000099"/>
<rect x="587.55" y="393.94" width="16.85" height="9.48" fill="#0b0b7c"/>
<rect x="605.70" y="393.94" width="16.85" height="9.48" fill="#000099"/>
<rect x="623.85" y="393.94" width="16.85" height="9.48" fill="#000099"/>
<rect x="642.00" y="393.94" width="16.85" height="9.48" fill="#000099"/>
<rect x="660.15" y="393.94" width="16.85" height="9.48" fill="#000099"/>
<text x="316.0" y="401.9" font-size="8.65" stroke="#000">CtAH12T0146100.1</text>
<text x="401.6" y="401.9" font-size="8.65" stroke="#000">0.86</text>
<rect x="424.20" y="404.72" width="16.85" height="9.48" fill="#2e2e26"/>
<rect x="442.35" y="404.72" width="16.85" height="9.48" fill="#2e2e26"/>
<rect x="460.50" y="404.72" width="16.85" height="9.48" fill="#2e2e26"/>
<rect x="478.65" y="404.72" width="16.85" height="9.48" fill="#484822"/>
<rect x="496.80" y="404.72" width="16.85" height="9.48" fill="#2e2e26"/>
<rect x="514.95" y="404.72" width="16.85" height="9.48" fill="#272727"/>
<rect x="533.10" y="404.72" width="16.85" height="9.48" fill="#272727"/>
<rect x="551.25" y="404.72" width="16.85" height="9.48" fill="#272727"/>
<rect x="569.40" y="404.72" width="16.85" height="9.48" fill="#272727"/>
<rect x="587.55" y="404.72" width="16.85" height="9.48" fill="#272727"/>
<rect x="605.70" y="404.72" width="16.85" height="9.48" fill="#272727"/>
<rect x="623.85" y="404.72" width="16.85" height="9.48" fill="#272727"/>
<rect x="642.00" y="404.72" width="16.85" height="9.48" fill="#1c1c44"/>
<rect x="660.15" y="404.72" width="16.85" height="9.48" fill="#272727"/>
<text x="316.0" y="412.7" font-size="8.65" stroke="#000">MSTRG.5679.2</text>
<text x="401.6" y="412.7" font-size="8.65" stroke="#000">0.86</text>
<rect x="424.20" y="415.50" width="16.85" height="9.48" fill="#2e2e26"/>
<rect x="442.35" y="415.50" width="16.85" height="9.48" fill="#2e2e26"/>
<rect x="460.50" y="415.50" width="16.85" height="9.48" fill="#2e2e26"/>
<rect x="478.65" y="415.50" width="16.85" height="9.48" fill="#2e2e26"/>
<rect x="496.80" y="415.50" width="16.85" height="9.48" fill="#2e2e26"/>
<rect x="514.95" y="415.50" width="16.85" height="9.48" fill="#272727"/>
<rect x="533.10" y="415.50" width="16.85" height="9.48" fill="#272727"/>
<rect x="551.25" y="415.50" width="16.85" height="9.48" fill="#272727"/>
<rect x="569.40" y="415.50" width="16.85" height="9.48" fill="#272727"/>
<rect x="587.55" y="415.50" width="16.85" height="9.48" fill="#272727"/>
<rect x="605.70" y="415.50" width="16.85" height="9.48" fill="#272727"/>
<rect x="623.85" y="415.50" width="16.85" height="9.48" fill="#272727"/>
<rect x="642.00" y="415.50" width="16.85" height="9.48" fill="#0b0b7c"/>
<rect x="660.15" y="415.50" width="16.85" height="9.48" fill="#13135e"/>
<text x="316.0" y="423.5" font-size="8.65" stroke="#000">CtAH05T0093500.1</text>
<text x="401.6" y="423.5" font-size="8.65" stroke="#000">0.86</text>
<rect x="424.20" y="426.28" width="16.85" height="9.48" fill="#1c1c44"/>
<rect x="442.35" y="426.28" width="16.85" height="9.48" fill="#0b0b7c"/>
<rect x="460.50" y="426.28" width="16.85" height="9.48" fill="#0b0b7c"/>
<rect x="478.65" y="426.28" width="16.85" height="9.48" fill="#1c1c44"/>
<rect x="496.80" y="426.28" width="16.85" height="9.48" fill="#0b0b7c"/>
<rect x="514.95" y="426.28" width="16.85" height="9.48" fill="#000099"/>
<rect x="533.10" y="426.28" width="16.85" height="9.48" fill="#000099"/>
<rect x="551.25" y="426.28" width="16.85" height="9.48" fill="#040490"/>
<rect x="569.40" y="426.28" width="16.85" height="9.48" fill="#000099"/>
<rect x="587.55" y="426.28" width="16.85" height="9.48" fill="#000099"/>
<rect x="605.70" y="426.28" width="16.85" height="9.48" fill="#000099"/>
<rect x="623.85" y="426.28" width="16.85" height="9.48" fill="#000099"/>
<rect x="642.00" y="426.28" width="16.85" height="9.48" fill="#000099"/>
<rect x="660.15" y="426.28" width="16.85" height="9.48" fill="#000099"/>
<text x="316.0" y="434.2" font-size="8.65" stroke="#000">CtAH08T0184200.1</text>
<text x="401.6" y="434.2" font-size="8.65" stroke="#000">0.85</text>
<rect x="424.20" y="437.06" width="16.85" height="9.48" fill="#272727"/>
<rect x="442.35" y="437.06" width="16.85" height="9.48" fill="#272727"/>
<rect x="460.50" y="437.06" width="16.85" height="9.48" fill="#272727"/>
<rect x="478.65" y="437.06" width="16.85" height="9.48" fill="#272727"/>
<rect x="496.80" y="437.06" width="16.85" height="9.48" fill="#272727"/>
<rect x="514.95" y="437.06" width="16.85" height="9.48" fill="#1c1c44"/>
<rect x="533.10" y="437.06" width="16.85" height="9.48" fill="#000099"/>
<rect x="551.25" y="437.06" width="16.85" height="9.48" fill="#1c1c44"/>
<rect x="569.40" y="437.06" width="16.85" height="9.48" fill="#0b0b7c"/>
<rect x="587.55" y="437.06" width="16.85" height="9.48" fill="#000099"/>
<rect x="605.70" y="437.06" width="16.85" height="9.48" fill="#0b0b7c"/>
<rect x="623.85" y="437.06" width="16.85" height="9.48" fill="#000099"/>
<rect x="642.00" y="437.06" width="16.85" height="9.48" fill="#000099"/>
<rect x="660.15" y="437.06" width="16.85" height="9.48" fill="#000099"/>
<text x="316.0" y="445.0" font-size="8.65" stroke="#000">CtAH08T0135700.2</text>
<text x="401.6" y="445.0" font-size="8.65" stroke="#000">0.85</text>
<rect x="424.20" y="458.90" width="16.85" height="9.48" fill="#393925"/>
<rect x="442.35" y="458.90" width="16.85" height="9.48" fill="#2e2e26"/>
<rect x="460.50" y="458.90" width="16.85" height="9.48" fill="#393925"/>
<rect x="478.65" y="458.90" width="16.85" height="9.48" fill="#2e2e26"/>
<rect x="496.80" y="458.90" width="16.85" height="9.48" fill="#272727"/>
<rect x="514.95" y="458.90" width="16.85" height="9.48" fill="#272727"/>
<rect x="533.10" y="458.90" width="16.85" height="9.48" fill="#272727"/>
<rect x="551.25" y="458.90" width="16.85" height="9.48" fill="#272727"/>
<rect x="569.40" y="458.90" width="16.85" height="9.48" fill="#13135e"/>
<rect x="587.55" y="458.90" width="16.85" height="9.48" fill="#13135e"/>
<rect x="605.70" y="458.90" width="16.85" height="9.48" fill="#13135e"/>
<rect x="623.85" y="458.90" width="16.85" height="9.48" fill="#000099"/>
<rect x="642.00" y="458.90" width="16.85" height="9.48" fill="#000099"/>
<rect x="660.15" y="458.90" width="16.85" height="9.48" fill="#000099"/>
<text x="316.0" y="466.9" font-size="8.65" stroke="#000">MSTRG.2565.1</text>
<text x="401.6" y="466.9" font-size="8.65" stroke="#000">0.97</text>
<rect x="424.20" y="469.68" width="16.85" height="9.48" fill="#2e2e26"/>
<rect x="442.35" y="469.68" width="16.85" height="9.48" fill="#2e2e26"/>
<rect x="460.50" y="469.68" width="16.85" height="9.48" fill="#2e2e26"/>
<rect x="478.65" y="469.68" width="16.85" height="9.48" fill="#2e2e26"/>
<rect x="496.80" y="469.68" width="16.85" height="9.48" fill="#272727"/>
<rect x="514.95" y="469.68" width="16.85" height="9.48" fill="#272727"/>
<rect x="533.10" y="469.68" width="16.85" height="9.48" fill="#272727"/>
<rect x="551.25" y="469.68" width="16.85" height="9.48" fill="#272727"/>
<rect x="569.40" y="469.68" width="16.85" height="9.48" fill="#272727"/>
<rect x="587.55" y="469.68" width="16.85" height="9.48" fill="#272727"/>
<rect x="605.70" y="469.68" width="16.85" height="9.48" fill="#272727"/>
<rect x="623.85" y="469.68" width="16.85" height="9.48" fill="#13135e"/>
<rect x="642.00" y="469.68" width="16.85" height="9.48" fill="#13135e"/>
<rect x="660.15" y="469.68" width="16.85" height="9.48" fill="#13135e"/>
<text x="316.0" y="477.6" font-size="8.65" stroke="#000">CtAH08T0078700.1</text>
<text x="401.6" y="477.6" font-size="8.65" stroke="#000">0.94</text>
<rect x="424.20" y="480.46" width="16.85" height="9.48" fill="#ffff00"/>
<rect x="442.35" y="480.46" width="16.85" height="9.48" fill="#98980f"/>
<rect x="460.50" y="480.46" width="16.85" height="9.48" fill="#aeae10"/>
<rect x="478.65" y="480.46" width="16.85" height="9.48" fill="#7c7c18"/>
<rect x="496.80" y="480.46" width="16.85" height="9.48" fill="#272727"/>
<rect x="514.95" y="480.46" width="16.85" height="9.48" fill="#272727"/>
<rect x="533.10" y="480.46" width="16.85" height="9.48" fill="#272727"/>
<rect x="551.25" y="480.46" width="16.85" height="9.48" fill="#272727"/>
<rect x="569.40" y="480.46" width="16.85" height="9.48" fill="#000099"/>
<rect x="587.55" y="480.46" width="16.85" height="9.48" fill="#000099"/>
<rect x="605.70" y="480.46" width="16.85" height="9.48" fill="#000099"/>
<rect x="623.85" y="480.46" width="16.85" height="9.48" fill="#000099"/>
<rect x="642.00" y="480.46" width="16.85" height="9.48" fill="#000099"/>
<rect x="660.15" y="480.46" width="16.85" height="9.48" fill="#000099"/>
<text x="316.0" y="488.4" font-size="8.65" fill="#f26b6b" stroke="#f26b6b">CtAH11T0228700.1</text>
<text x="401.6" y="488.4" font-size="8.65" stroke="#000">0.94</text>
<rect x="424.20" y="491.24" width="16.85" height="9.48" fill="#7c7c18"/>
<rect x="442.35" y="491.24" width="16.85" height="9.48" fill="#2e2e26"/>
<rect x="460.50" y="491.24" width="16.85" height="9.48" fill="#393925"/>
<rect x="478.65" y="491.24" width="16.85" height="9.48" fill="#2e2e26"/>
<rect x="496.80" y="491.24" width="16.85" height="9.48" fill="#272727"/>
<rect x="514.95" y="491.24" width="16.85" height="9.48" fill="#272727"/>
<rect x="533.10" y="491.24" width="16.85" height="9.48" fill="#272727"/>
<rect x="551.25" y="491.24" width="16.85" height="9.48" fill="#272727"/>
<rect x="569.40" y="491.24" width="16.85" height="9.48" fill="#000099"/>
<rect x="587.55" y="491.24" width="16.85" height="9.48" fill="#000099"/>
<rect x="605.70" y="491.24" width="16.85" height="9.48" fill="#040490"/>
<rect x="623.85" y="491.24" width="16.85" height="9.48" fill="#000099"/>
<rect x="642.00" y="491.24" width="16.85" height="9.48" fill="#000099"/>
<rect x="660.15" y="491.24" width="16.85" height="9.48" fill="#000099"/>
<text x="316.0" y="499.2" font-size="8.65" stroke="#000">MSTRG.32936.2</text>
<text x="401.6" y="499.2" font-size="8.65" stroke="#000">0.94</text>
<rect x="424.20" y="502.02" width="16.85" height="9.48" fill="#272727"/>
<rect x="442.35" y="502.02" width="16.85" height="9.48" fill="#2e2e26"/>
<rect x="460.50" y="502.02" width="16.85" height="9.48" fill="#2e2e26"/>
<rect x="478.65" y="502.02" width="16.85" height="9.48" fill="#272727"/>
<rect x="496.80" y="502.02" width="16.85" height="9.48" fill="#272727"/>
<rect x="514.95" y="502.02" width="16.85" height="9.48" fill="#000099"/>
<rect x="533.10" y="502.02" width="16.85" height="9.48" fill="#000099"/>
<rect x="551.25" y="502.02" width="16.85" height="9.48" fill="#272727"/>
<rect x="569.40" y="502.02" width="16.85" height="9.48" fill="#000099"/>
<rect x="587.55" y="502.02" width="16.85" height="9.48" fill="#000099"/>
<rect x="605.70" y="502.02" width="16.85" height="9.48" fill="#000099"/>
<rect x="623.85" y="502.02" width="16.85" height="9.48" fill="#000099"/>
<rect x="642.00" y="502.02" width="16.85" height="9.48" fill="#000099"/>
<rect x="660.15" y="502.02" width="16.85" height="9.48" fill="#040490"/>
<text x="316.0" y="510.0" font-size="8.65" stroke="#000">MSTRG.28411.3</text>
<text x="401.6" y="510.0" font-size="8.65" stroke="#000">0.93</text>
<rect x="424.20" y="512.80" width="16.85" height="9.48" fill="#272727"/>
<rect x="442.35" y="512.80" width="16.85" height="9.48" fill="#1c1c44"/>
<rect x="460.50" y="512.80" width="16.85" height="9.48" fill="#272727"/>
<rect x="478.65" y="512.80" width="16.85" height="9.48" fill="#272727"/>
<rect x="496.80" y="512.80" width="16.85" height="9.48" fill="#000099"/>
<rect x="514.95" y="512.80" width="16.85" height="9.48" fill="#000099"/>
<rect x="533.10" y="512.80" width="16.85" height="9.48" fill="#000099"/>
<rect x="551.25" y="512.80" width="16.85" height="9.48" fill="#000099"/>
<rect x="569.40" y="512.80" width="16.85" height="9.48" fill="#000099"/>
<rect x="587.55" y="512.80" width="16.85" height="9.48" fill="#000099"/>
<rect x="605.70" y="512.80" width="16.85" height="9.48" fill="#000099"/>
<rect x="623.85" y="512.80" width="16.85" height="9.48" fill="#000099"/>
<rect x="642.00" y="512.80" width="16.85" height="9.48" fill="#000099"/>
<rect x="660.15" y="512.80" width="16.85" height="9.48" fill="#000099"/>
<text x="316.0" y="520.8" font-size="8.65" stroke="#000">CtAH07T0081900.1</text>
<text x="401.6" y="520.8" font-size="8.65" stroke="#000">0.91</text>
<rect x="424.20" y="523.58" width="16.85" height="9.48" fill="#272727"/>
<rect x="442.35" y="523.58" width="16.85" height="9.48" fill="#272727"/>
<rect x="460.50" y="523.58" width="16.85" height="9.48" fill="#272727"/>
<rect x="478.65" y="523.58" width="16.85" height="9.48" fill="#272727"/>
<rect x="496.80" y="523.58" width="16.85" height="9.48" fill="#272727"/>
<rect x="514.95" y="523.58" width="16.85" height="9.48" fill="#000099"/>
<rect x="533.10" y="523.58" width="16.85" height="9.48" fill="#0b0b7c"/>
<rect x="551.25" y="523.58" width="16.85" height="9.48" fill="#040490"/>
<rect x="569.40" y="523.58" width="16.85" height="9.48" fill="#0b0b7c"/>
<rect x="587.55" y="523.58" width="16.85" height="9.48" fill="#272727"/>
<rect x="605.70" y="523.58" width="16.85" height="9.48" fill="#13135e"/>
<rect x="623.85" y="523.58" width="16.85" height="9.48" fill="#000099"/>
<rect x="642.00" y="523.58" width="16.85" height="9.48" fill="#000099"/>
<rect x="660.15" y="523.58" width="16.85" height="9.48" fill="#000099"/>
<text x="316.0" y="531.5" font-size="8.65" stroke="#000">MSTRG.11418.1</text>
<text x="401.6" y="531.5" font-size="8.65" stroke="#000">0.91</text>
<rect x="424.20" y="534.36" width="16.85" height="9.48" fill="#2e2e26"/>
<rect x="442.35" y="534.36" width="16.85" height="9.48" fill="#272727"/>
<rect x="460.50" y="534.36" width="16.85" height="9.48" fill="#272727"/>
<rect x="478.65" y="534.36" width="16.85" height="9.48" fill="#272727"/>
<rect x="496.80" y="534.36" width="16.85" height="9.48" fill="#272727"/>
<rect x="514.95" y="534.36" width="16.85" height="9.48" fill="#272727"/>
<rect x="533.10" y="534.36" width="16.85" height="9.48" fill="#272727"/>
<rect x="551.25" y="534.36" width="16.85" height="9.48" fill="#272727"/>
<rect x="569.40" y="534.36" width="16.85" height="9.48" fill="#272727"/>
<rect x="587.55" y="534.36" width="16.85" height="9.48" fill="#272727"/>
<rect x="605.70" y="534.36" width="16.85" height="9.48" fill="#272727"/>
<rect x="623.85" y="534.36" width="16.85" height="9.48" fill="#272727"/>
<rect x="642.00" y="534.36" width="16.85" height="9.48" fill="#000099"/>
<rect x="660.15" y="534.36" width="16.85" height="9.48" fill="#0b0b7c"/>
<text x="316.0" y="542.3" font-size="8.65" stroke="#000">CtAH10T0255500.1</text>
<text x="401.6" y="542.3" font-size="8.65" stroke="#000">0.91</text>
<rect x="424.20" y="545.14" width="16.85" height="9.48" fill="#2e2e26"/>
<rect x="442.35" y="545.14" width="16.85" height="9.48" fill="#2e2e26"/>
<rect x="460.50" y="545.14" width="16.85" height="9.48" fill="#2e2e26"/>
<rect x="478.65" y="545.14" width="16.85" height="9.48" fill="#2e2e26"/>
<rect x="496.80" y="545.14" width="16.85" height="9.48" fill="#272727"/>
<rect x="514.95" y="545.14" width="16.85" height="9.48" fill="#272727"/>
<rect x="533.10" y="545.14" width="16.85" height="9.48" fill="#272727"/>
<rect x="551.25" y="545.14" width="16.85" height="9.48" fill="#272727"/>
<rect x="569.40" y="545.14" width="16.85" height="9.48" fill="#272727"/>
<rect x="587.55" y="545.14" width="16.85" height="9.48" fill="#272727"/>
<rect x="605.70" y="545.14" width="16.85" height="9.48" fill="#272727"/>
<rect x="623.85" y="545.14" width="16.85" height="9.48" fill="#272727"/>
<rect x="642.00" y="545.14" width="16.85" height="9.48" fill="#000099"/>
<rect x="660.15" y="545.14" width="16.85" height="9.48" fill="#13135e"/>
<text x="316.0" y="553.1" font-size="8.65" stroke="#000">MSTRG.6217.2</text>
<text x="401.6" y="553.1" font-size="8.65" stroke="#000">0.91</text>
<rect x="424.20" y="555.92" width="16.85" height="9.48" fill="#272727"/>
<rect x="442.35" y="555.92" width="16.85" height="9.48" fill="#272727"/>
<rect x="460.50" y="555.92" width="16.85" height="9.48" fill="#272727"/>
<rect x="478.65" y="555.92" width="16.85" height="9.48" fill="#272727"/>
<rect x="496.80" y="555.92" width="16.85" height="9.48" fill="#272727"/>
<rect x="514.95" y="555.92" width="16.85" height="9.48" fill="#0b0b7c"/>
<rect x="533.10" y="555.92" width="16.85" height="9.48" fill="#0b0b7c"/>
<rect x="551.25" y="555.92" width="16.85" height="9.48" fill="#0b0b7c"/>
<rect x="569.40" y="555.92" width="16.85" height="9.48" fill="#0b0b7c"/>
<rect x="587.55" y="555.92" width="16.85" height="9.48" fill="#0b0b7c"/>
<rect x="605.70" y="555.92" width="16.85" height="9.48" fill="#0b0b7c"/>
<rect x="623.85" y="555.92" width="16.85" height="9.48" fill="#272727"/>
<rect x="642.00" y="555.92" width="16.85" height="9.48" fill="#000099"/>
<rect x="660.15" y="555.92" width="16.85" height="9.48" fill="#000099"/>
<text x="316.0" y="563.9" font-size="8.65" stroke="#000">MSTRG.18114.1</text>
<text x="401.6" y="563.9" font-size="8.65" stroke="#000">0.90</text>
<rect x="424.20" y="566.70" width="16.85" height="9.48" fill="#272727"/>
<rect x="442.35" y="566.70" width="16.85" height="9.48" fill="#272727"/>
<rect x="460.50" y="566.70" width="16.85" height="9.48" fill="#272727"/>
<rect x="478.65" y="566.70" width="16.85" height="9.48" fill="#1c1c44"/>
<rect x="496.80" y="566.70" width="16.85" height="9.48" fill="#000099"/>
<rect x="514.95" y="566.70" width="16.85" height="9.48" fill="#000099"/>
<rect x="533.10" y="566.70" width="16.85" height="9.48" fill="#000099"/>
<rect x="551.25" y="566.70" width="16.85" height="9.48" fill="#000099"/>
<rect x="569.40" y="566.70" width="16.85" height="9.48" fill="#000099"/>
<rect x="587.55" y="566.70" width="16.85" height="9.48" fill="#000099"/>
<rect x="605.70" y="566.70" width="16.85" height="9.48" fill="#000099"/>
<rect x="623.85" y="566.70" width="16.85" height="9.48" fill="#000099"/>
<rect x="642.00" y="566.70" width="16.85" height="9.48" fill="#000099"/>
<rect x="660.15" y="566.70" width="16.85" height="9.48" fill="#000099"/>
<text x="316.0" y="574.7" font-size="8.65" stroke="#000">CtAH09T0087600.5</text>
<text x="401.6" y="574.7" font-size="8.65" stroke="#000">0.90</text>
<rect x="424.20" y="577.48" width="16.85" height="9.48" fill="#272727"/>
<rect x="442.35" y="577.48" width="16.85" height="9.48" fill="#272727"/>
<rect x="460.50" y="577.48" width="16.85" height="9.48" fill="#272727"/>
<rect x="478.65" y="577.48" width="16.85" height="9.48" fill="#272727"/>
<rect x="496.80" y="577.48" width="16.85" height="9.48" fill="#272727"/>
<rect x="514.95" y="577.48" width="16.85" height="9.48" fill="#13135e"/>
<rect x="533.10" y="577.48" width="16.85" height="9.48" fill="#0b0b7c"/>
<rect x="551.25" y="577.48" width="16.85" height="9.48" fill="#040490"/>
<rect x="569.40" y="577.48" width="16.85" height="9.48" fill="#000099"/>
<rect x="587.55" y="577.48" width="16.85" height="9.48" fill="#000099"/>
<rect x="605.70" y="577.48" width="16.85" height="9.48" fill="#000099"/>
<rect x="623.85" y="577.48" width="16.85" height="9.48" fill="#000099"/>
<rect x="642.00" y="577.48" width="16.85" height="9.48" fill="#000099"/>
<rect x="660.15" y="577.48" width="16.85" height="9.48" fill="#000099"/>
<text x="316.0" y="585.4" font-size="8.65" stroke="#000">CtAH08T0309200.1</text>
<text x="401.6" y="585.4" font-size="8.65" stroke="#000">0.90</text>
<rect x="424.20" y="588.26" width="16.85" height="9.48" fill="#393925"/>
<rect x="442.35" y="588.26" width="16.85" height="9.48" fill="#393925"/>
<rect x="460.50" y="588.26" width="16.85" height="9.48" fill="#2e2e26"/>
<rect x="478.65" y="588.26" width="16.85" height="9.48" fill="#272727"/>
<rect x="496.80" y="588.26" width="16.85" height="9.48" fill="#272727"/>
<rect x="514.95" y="588.26" width="16.85" height="9.48" fill="#272727"/>
<rect x="533.10" y="588.26" width="16.85" height="9.48" fill="#1c1c44"/>
<rect x="551.25" y="588.26" width="16.85" height="9.48" fill="#13135e"/>
<rect x="569.40" y="588.26" width="16.85" height="9.48" fill="#0b0b7c"/>
<rect x="587.55" y="588.26" width="16.85" height="9.48" fill="#000099"/>
<rect x="605.70" y="588.26" width="16.85" height="9.48" fill="#0b0b7c"/>
<rect x="623.85" y="588.26" width="16.85" height="9.48" fill="#13135e"/>
<rect x="642.00" y="588.26" width="16.85" height="9.48" fill="#000099"/>
<rect x="660.15" y="588.26" width="16.85" height="9.48" fill="#0b0b7c"/>
<text x="316.0" y="596.2" font-size="8.65" stroke="#000">CtAH09T0201200.1</text>
<text x="401.6" y="596.2" font-size="8.65" stroke="#000">0.89</text>
<rect x="424.20" y="599.04" width="16.85" height="9.48" fill="#272727"/>
<rect x="442.35" y="599.04" width="16.85" height="9.48" fill="#272727"/>
<rect x="460.50" y="599.04" width="16.85" height="9.48" fill="#272727"/>
<rect x="478.65" y="599.04" width="16.85" height="9.48" fill="#272727"/>
<rect x="496.80" y="599.04" width="16.85" height="9.48" fill="#000099"/>
<rect x="514.95" y="599.04" width="16.85" height="9.48" fill="#000099"/>
<rect x="533.10" y="599.04" width="16.85" height="9.48" fill="#000099"/>
<rect x="551.25" y="599.04" width="16.85" height="9.48" fill="#040490"/>
<rect x="569.40" y="599.04" width="16.85" height="9.48" fill="#000099"/>
<rect x="587.55" y="599.04" width="16.85" height="9.48" fill="#000099"/>
<rect x="605.70" y="599.04" width="16.85" height="9.48" fill="#000099"/>
<rect x="623.85" y="599.04" width="16.85" height="9.48" fill="#000099"/>
<rect x="642.00" y="599.04" width="16.85" height="9.48" fill="#000099"/>
<rect x="660.15" y="599.04" width="16.85" height="9.48" fill="#000099"/>
<text x="316.0" y="607.0" font-size="8.65" stroke="#000">CtAH09T0087600.2</text>
<text x="401.6" y="607.0" font-size="8.65" stroke="#000">0.89</text>
<rect x="424.20" y="609.82" width="16.85" height="9.48" fill="#272727"/>
<rect x="442.35" y="609.82" width="16.85" height="9.48" fill="#2e2e26"/>
<rect x="460.50" y="609.82" width="16.85" height="9.48" fill="#2e2e26"/>
<rect x="478.65" y="609.82" width="16.85" height="9.48" fill="#393925"/>
<rect x="496.80" y="609.82" width="16.85" height="9.48" fill="#272727"/>
<rect x="514.95" y="609.82" width="16.85" height="9.48" fill="#272727"/>
<rect x="533.10" y="609.82" width="16.85" height="9.48" fill="#13135e"/>
<rect x="551.25" y="609.82" width="16.85" height="9.48" fill="#0b0b7c"/>
<rect x="569.40" y="609.82" width="16.85" height="9.48" fill="#000099"/>
<rect x="587.55" y="609.82" width="16.85" height="9.48" fill="#000099"/>
<rect x="605.70" y="609.82" width="16.85" height="9.48" fill="#000099"/>
<rect x="623.85" y="609.82" width="16.85" height="9.48" fill="#000099"/>
<rect x="642.00" y="609.82" width="16.85" height="9.48" fill="#000099"/>
<rect x="660.15" y="609.82" width="16.85" height="9.48" fill="#000099"/>
<text x="316.0" y="617.8" font-size="8.65" stroke="#000">CtAH09T0086300.2</text>
<text x="401.6" y="617.8" font-size="8.65" stroke="#000">0.88</text>
<rect x="424.20" y="620.60" width="16.85" height="9.48" fill="#393925"/>
<rect x="442.35" y="620.60" width="16.85" height="9.48" fill="#272727"/>
<rect x="460.50" y="620.60" width="16.85" height="9.48" fill="#272727"/>
<rect x="478.65" y="620.60" width="16.85" height="9.48" fill="#272727"/>
<rect x="496.80" y="620.60" width="16.85" height="9.48" fill="#13135e"/>
<rect x="514.95" y="620.60" width="16.85" height="9.48" fill="#000099"/>
<rect x="533.10" y="620.60" width="16.85" height="9.48" fill="#13135e"/>
<rect x="551.25" y="620.60" width="16.85" height="9.48" fill="#13135e"/>
<rect x="569.40" y="620.60" width="16.85" height="9.48" fill="#0b0b7c"/>
<rect x="587.55" y="620.60" width="16.85" height="9.48" fill="#0b0b7c"/>
<rect x="605.70" y="620.60" width="16.85" height="9.48" fill="#000099"/>
<rect x="623.85" y="620.60" width="16.85" height="9.48" fill="#0b0b7c"/>
<rect x="642.00" y="620.60" width="16.85" height="9.48" fill="#13135e"/>
<rect x="660.15" y="620.60" width="16.85" height="9.48" fill="#13135e"/>
<text x="316.0" y="628.6" font-size="8.65" stroke="#000">MSTRG.32936.3</text>
<text x="401.6" y="628.6" font-size="8.65" stroke="#000">0.88</text>
<rect x="424.20" y="631.38" width="16.85" height="9.48" fill="#272727"/>
<rect x="442.35" y="631.38" width="16.85" height="9.48" fill="#272727"/>
<rect x="460.50" y="631.38" width="16.85" height="9.48" fill="#272727"/>
<rect x="478.65" y="631.38" width="16.85" height="9.48" fill="#272727"/>
<rect x="496.80" y="631.38" width="16.85" height="9.48" fill="#272727"/>
<rect x="514.95" y="631.38" width="16.85" height="9.48" fill="#272727"/>
<rect x="533.10" y="631.38" width="16.85" height="9.48" fill="#272727"/>
<rect x="551.25" y="631.38" width="16.85" height="9.48" fill="#272727"/>
<rect x="569.40" y="631.38" width="16.85" height="9.48" fill="#000099"/>
<rect x="587.55" y="631.38" width="16.85" height="9.48" fill="#000099"/>
<rect x="605.70" y="631.38" width="16.85" height="9.48" fill="#000099"/>
<rect x="623.85" y="631.38" width="16.85" height="9.48" fill="#000099"/>
<rect x="642.00" y="631.38" width="16.85" height="9.48" fill="#000099"/>
<rect x="660.15" y="631.38" width="16.85" height="9.48" fill="#000099"/>
<text x="316.0" y="639.3" font-size="8.65" stroke="#000">MSTRG.8970.1</text>
<text x="401.6" y="639.3" font-size="8.65" stroke="#000">0.88</text>
<rect x="424.20" y="642.16" width="16.85" height="9.48" fill="#272727"/>
<rect x="442.35" y="642.16" width="16.85" height="9.48" fill="#272727"/>
<rect x="460.50" y="642.16" width="16.85" height="9.48" fill="#272727"/>
<rect x="478.65" y="642.16" width="16.85" height="9.48" fill="#272727"/>
<rect x="496.80" y="642.16" width="16.85" height="9.48" fill="#272727"/>
<rect x="514.95" y="642.16" width="16.85" height="9.48" fill="#272727"/>
<rect x="533.10" y="642.16" width="16.85" height="9.48" fill="#272727"/>
<rect x="551.25" y="642.16" width="16.85" height="9.48" fill="#272727"/>
<rect x="569.40" y="642.16" width="16.85" height="9.48" fill="#272727"/>
<rect x="587.55" y="642.16" width="16.85" height="9.48" fill="#272727"/>
<rect x="605.70" y="642.16" width="16.85" height="9.48" fill="#272727"/>
<rect x="623.85" y="642.16" width="16.85" height="9.48" fill="#000099"/>
<rect x="642.00" y="642.16" width="16.85" height="9.48" fill="#000099"/>
<rect x="660.15" y="642.16" width="16.85" height="9.48" fill="#000099"/>
<text x="316.0" y="650.1" font-size="8.65" stroke="#000">MSTRG.15181.1</text>
<text x="401.6" y="650.1" font-size="8.65" stroke="#000">0.86</text>
</g>
<text x="316.0" y="304.7" font-size="8.65" stroke="#000">Transcript_id</text>
<text x="401.6" y="304.7" font-size="8.65" stroke="#000">PCC</text>
<text x="432.6" y="304.6" font-size="8.6" text-anchor="middle" stroke="#000">1</text>
<text x="450.8" y="304.6" font-size="8.6" text-anchor="middle" stroke="#000">2</text>
<text x="468.9" y="304.6" font-size="8.6" text-anchor="middle" stroke="#000">3</text>
<text x="487.1" y="304.6" font-size="8.6" text-anchor="middle" stroke="#000">4</text>
<text x="505.2" y="304.6" font-size="8.6" text-anchor="middle" stroke="#000">1</text>
<text x="523.4" y="304.6" font-size="8.6" text-anchor="middle" stroke="#000">2</text>
<text x="541.5" y="304.6" font-size="8.6" text-anchor="middle" stroke="#000">3</text>
<text x="559.7" y="304.6" font-size="8.6" text-anchor="middle" stroke="#000">4</text>
<text x="577.8" y="304.6" font-size="8.6" text-anchor="middle" stroke="#000">1</text>
<text x="596.0" y="304.6" font-size="8.6" text-anchor="middle" stroke="#000">2</text>
<text x="614.1" y="304.6" font-size="8.6" text-anchor="middle" stroke="#000">3</text>
<text x="632.3" y="304.6" font-size="8.6" text-anchor="middle" stroke="#000">1</text>
<text x="650.4" y="304.6" font-size="8.6" text-anchor="middle" stroke="#000">2</text>
<text x="668.6" y="304.6" font-size="8.6" text-anchor="middle" stroke="#000">3</text>
<path d="M425.4 292.5 H494.7 M498.5 292.5 H567 M570.4 292.5 H621.2 M625 292.5 H677.2" stroke="#111" stroke-width="1.3" fill="none"/>
<text stroke="#000" transform="translate(458.5 290.5) rotate(-14.5)" font-size="11.4">budding flower</text>
<text stroke="#000" transform="translate(532.4 290.5) rotate(-14.5)" font-size="11.4">blooming flower</text>
<text stroke="#000" transform="translate(594.0 288.4) rotate(-14.5)" font-size="11.4">calyx</text>
<text stroke="#000" transform="translate(648.6 289.4) rotate(-14.5)" font-size="11.4">leaf</text>
<path d="M310.2 298.6 C304.6 316 306 420 306.6 430 C307.2 438 308.4 442 310.8 445.4" stroke="#111" stroke-width="1.1" fill="none"/>
<path d="M310.2 456.6 C304.6 476 306 620 306.6 634 C307.2 643 308.4 648 310.8 651.4" stroke="#111" stroke-width="1.1" fill="none"/>
<text x="298.4" y="371.1" font-size="9.3" text-anchor="end" stroke="#000">UGT</text>
<text x="303.0" y="383.5" font-size="9.3" text-anchor="end" stroke="#000">family</text>
<text x="298.4" y="549.5" font-size="9.3" text-anchor="end" stroke="#000">P450</text>
<text x="303.0" y="561.9" font-size="9.3" text-anchor="end" stroke="#000">family</text>
<rect x="523" y="667" width="58.3" height="10.5" fill="url(#cb)"/>
<text x="552.6" y="663.9" font-size="9.8" text-anchor="middle" stroke="#000">TPM</text>
<text x="497.0" y="675.8" font-size="9.6" stroke="#000">Min</text>
<text x="587.8" y="675.8" font-size="9.6" stroke="#000">Max</text>
</svg></body></html>
